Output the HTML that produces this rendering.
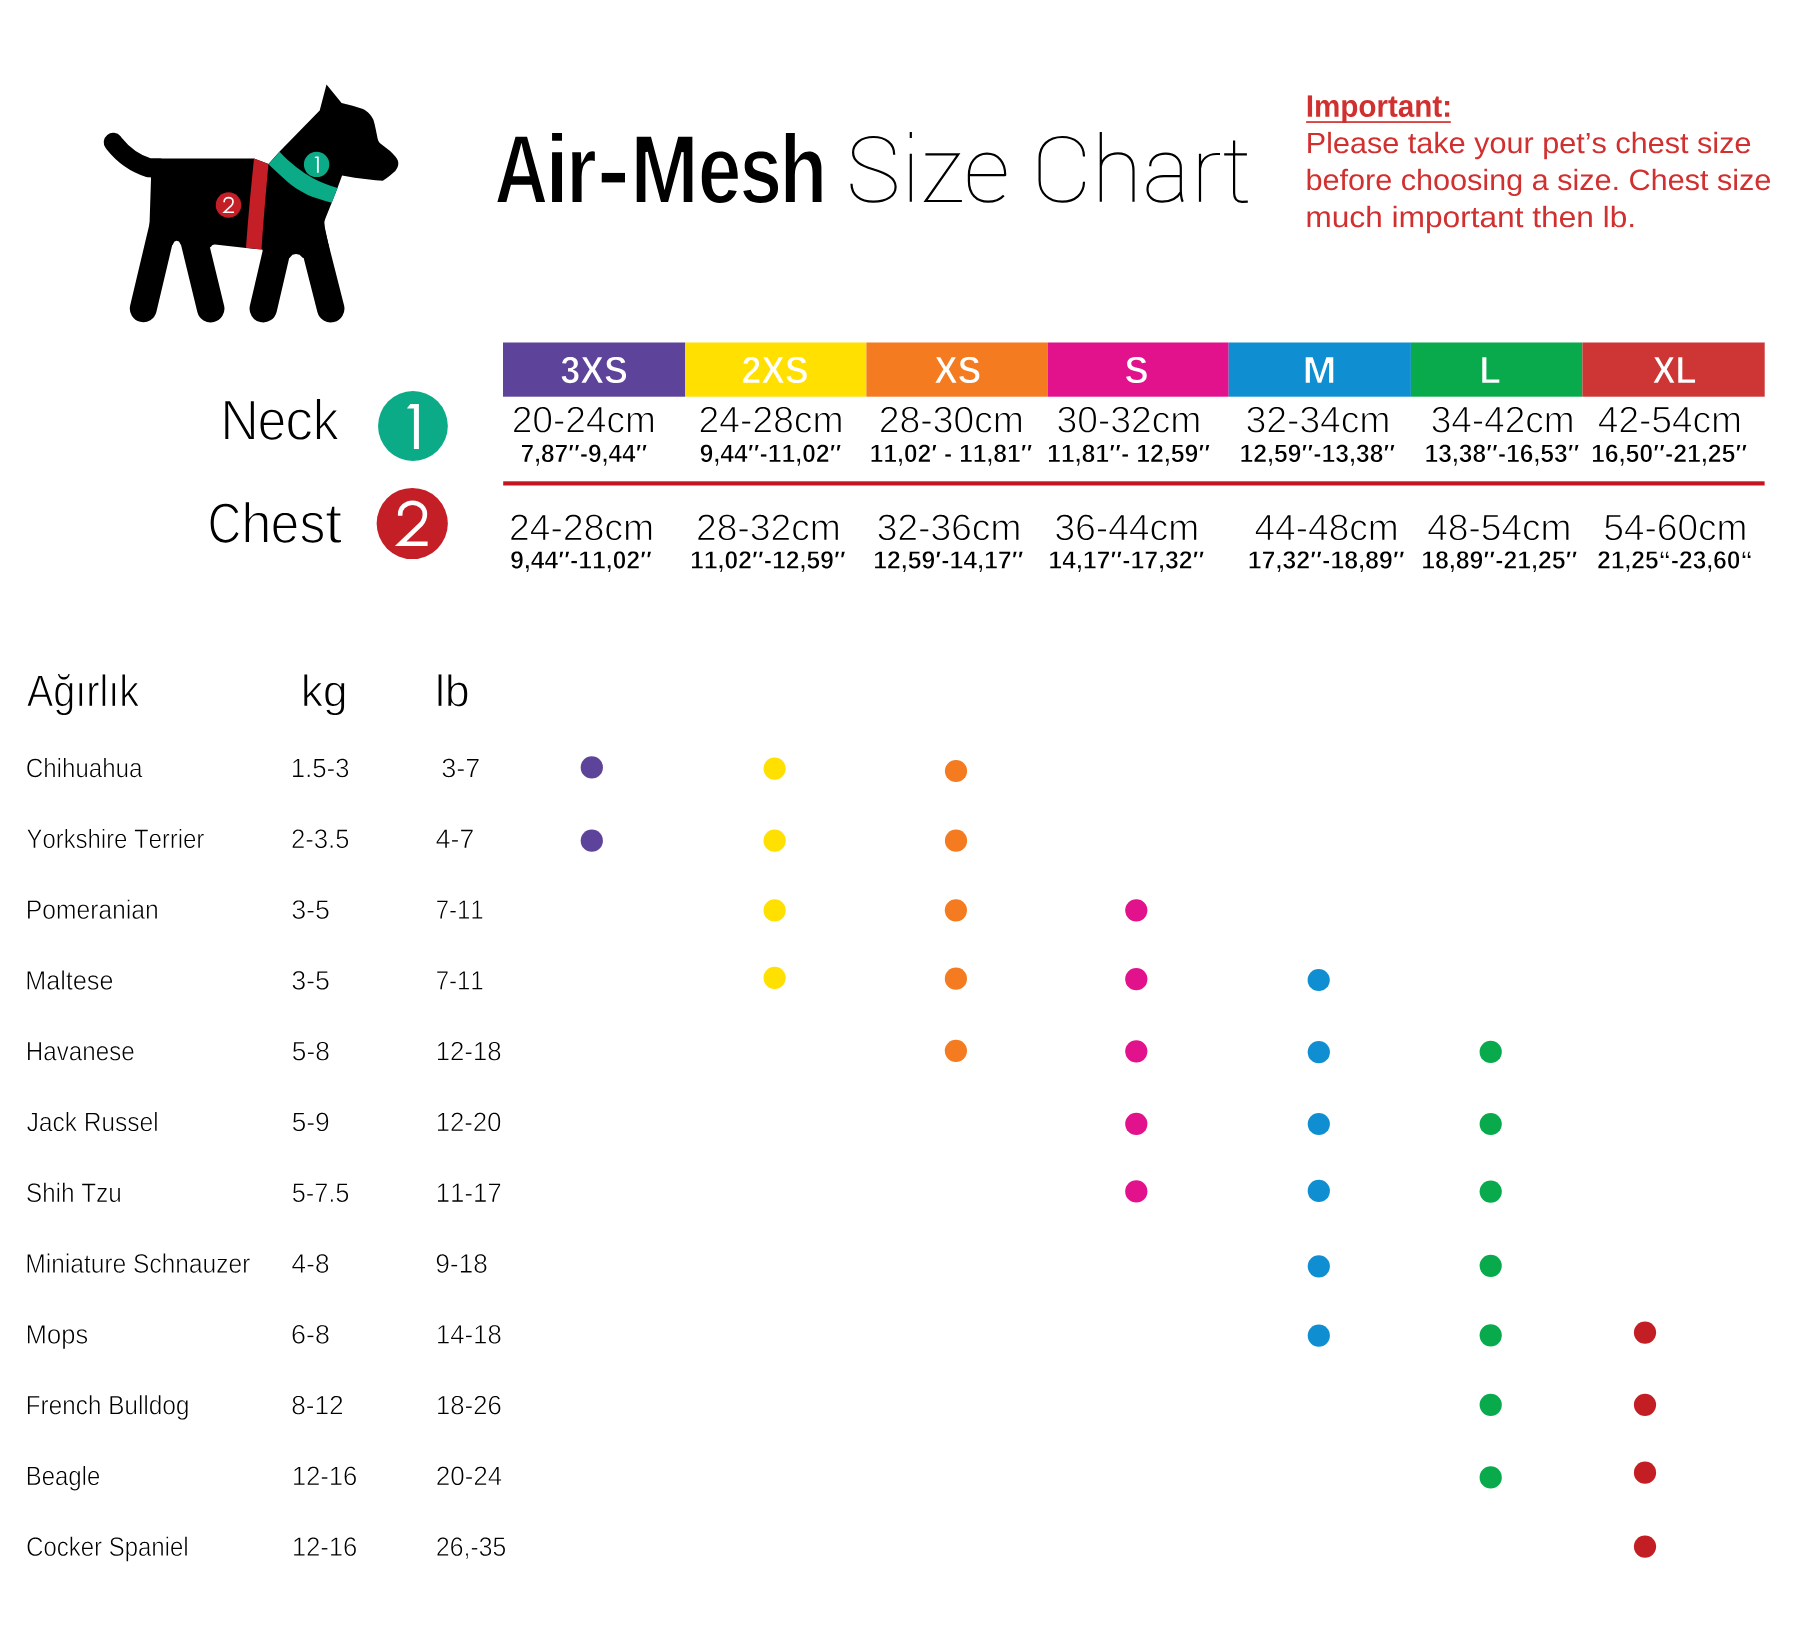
<!DOCTYPE html>
<html><head><meta charset="utf-8"><title>Air-Mesh Size Chart</title>
<style>
html,body{margin:0;padding:0;background:#fff;}
body{width:1800px;height:1631px;overflow:hidden;}
svg{display:block;}
text{font-family:"Liberation Sans",sans-serif;font-kerning:none;font-variant-ligatures:none;}
</style></head><body>
<svg width="1800" height="1631" viewBox="0 0 1800 1631">
<rect width="1800" height="1631" fill="#fff"/>
<defs><path id="g0" fill-rule="evenodd" d="M1149 23L1024 383 455 383 330 23 84 23 581 1386 897 1386 1392 23ZM505 559L974 559 825 994 742 1258Z"/><path id="g1" fill-rule="evenodd" d="M166 1059L401 1059 401 23 166 23ZM166 1461L401 1461 401 1300 166 1300Z"/><path id="g2" fill-rule="evenodd" d="M159 1059L382 1059 398 826 519 1009 561 1049 597 1068 640 1078 693 1080 743 1072 743 881 680 890 633 891 582 883 547 870 506 843 471 807 447 769 426 717 409 645 401 561 401 23 166 23 166 871Z"/><path id="g3" fill-rule="evenodd" d="M103 432L103 630 577 630 577 432Z"/><path id="g4" fill-rule="evenodd" d="M437 1071L376 1062 376 23 160 23 160 1386 515 1386 762 614 853 267 939 575 1193 1386 1546 1386 1546 23 1330 23 1330 1060 1275 1068 941 23 765 23 516 793Z"/><path id="g5" fill-rule="evenodd" d="M349 510L361 374 372 325 388 282 409 244 440 206 478 176 511 160 547 150 600 145 652 149 699 162 739 185 765 207 785 235 804 273 1019 254 990 198 955 150 915 110 870 76 802 40 734 19 658 6 573 3 498 8 420 24 350 50 288 86 242 125 198 177 163 236 136 304 117 380 107 453 103 546 107 638 118 710 139 786 163 844 199 905 244 957 291 996 353 1032 413 1055 490 1072 577 1079 652 1076 731 1062 791 1040 853 1004 907 957 950 903 990 826 1020 735 1039 629 1046 510ZM349 640L826 640 803 773 781 828 758 866 723 902 679 930 641 942 586 948 532 943 483 926 451 906 415 870 391 831 369 774Z"/><path id="g6" fill-rule="evenodd" d="M101 251L303 281 318 246 340 212 369 186 397 169 478 148 588 143 690 153 754 176 796 212 810 235 817 261 819 305 807 347 779 382 750 402 670 432 443 484 329 518 253 556 218 583 190 613 163 655 148 694 139 750 140 809 149 861 168 907 195 948 231 985 305 1031 396 1062 504 1078 627 1078 725 1066 818 1037 890 996 944 944 979 891 1002 831 799 810 786 843 765 876 746 894 716 913 647 934 542 938 464 929 400 904 378 885 362 862 353 835 350 805 354 774 366 746 386 722 427 695 489 673 696 626 824 589 912 547 973 494 1004 448 1022 401 1031 342 1030 283 1021 232 998 178 969 138 931 102 889 73 835 46 773 26 716 14 640 5 556 3 475 7 401 16 347 28 290 46 249 66 207 94 169 130 144 163 122 200Z"/><path id="g7" fill-rule="evenodd" d="M397 843L551 1009 613 1047 674 1069 768 1079 817 1077 872 1067 947 1037 987 1009 1015 981 1047 935 1072 879 1090 815 1098 754 1101 23 867 23 867 621 862 690 854 739 841 782 823 820 779 872 756 888 721 904 651 914 613 911 576 902 543 886 512 865 484 838 455 797 433 756 417 710 407 660 401 593 401 23 166 23 166 1461 401 1461Z"/><path id="g8" fill-rule="evenodd" d="M137 0L137 1409 432 1409 432 0Z"/><path id="g9" fill-rule="evenodd" d="M780 0L780 622 770 729 749 800 717 851 672 882 616 892 563 882 534 867 508 845 485 816 463 778 435 694 424 594 424 0 143 0 143 885 135 1082 403 1082 416 867 420 867 449 928 475 969 526 1028 590 1072 670 1098 735 1103 805 1098 866 1082 911 1060 956 1025 992 979 1020 922 1036 867 1042 867 1092 961 1135 1014 1183 1054 1245 1084 1329 1101 1421 1100 1499 1080 1556 1049 1604 1004 1643 945 1670 876 1687 794 1694 701 1694 0 1415 0 1415 622 1405 729 1384 800 1352 851 1307 882 1251 892 1217 888 1186 877 1140 843 1116 812 1096 776 1072 700 1059 593 1059 0Z"/><path id="g10" fill-rule="evenodd" d="M1167 546L1164 461 1154 371 1135 289 1109 216 1075 152 1037 100 988 54 933 19 859 -8 789 -19 700 -17 628 -3 564 24 514 57 471 99 424 172 418 172 424 46 424 -425 143 -425 143 863 135 1082 408 1082 416 1011 420 906 424 906 470 979 512 1023 562 1058 630 1086 720 1103 807 1104 887 1089 947 1064 1001 1027 1041 987 1079 935 1112 872 1137 800 1154 719 1163 643ZM874 546L868 657 852 738 827 803 787 859 734 894 669 909 627 909 593 902 562 891 534 873 493 833 457 768 435 694 422 594 422 480 434 389 456 313 493 247 516 222 552 196 592 179 625 173 667 173 709 180 739 191 772 212 815 262 847 332 866 421Z"/><path id="g11" fill-rule="evenodd" d="M1171 542L1161 415 1133 302 1090 214 1060 170 1025 130 950 67 902 40 851 17 749 -10 621 -20 507 -12 395 18 345 40 298 67 224 130 165 205 118 303 89 415 80 542 89 669 118 780 165 878 224 952 264 989 308 1021 397 1065 511 1094 627 1102 758 1092 861 1066 949 1024 993 993 1032 958 1065 918 1094 875 1138 776 1162 673ZM877 542L872 642 854 735 824 807 783 856 726 892 657 908 574 904 540 895 503 877 452 834 418 782 394 716 380 636 375 527 382 431 399 350 432 275 459 239 491 210 528 189 560 179 606 172 656 174 708 186 746 203 779 227 802 251 822 279 842 321 858 370 869 425Z"/><path id="g12" fill-rule="evenodd" d="M143 0L143 871 135 1082 403 1082 416 851 420 851 453 936 484 997 510 1033 548 1068 590 1089 651 1102 721 1100 766 1088 766 853 702 864 646 868 599 863 557 849 521 826 490 793 468 758 448 710 432 642 424 561 424 0Z"/><path id="g13" fill-rule="evenodd" d="M420 -18L344 -10 280 12 229 50 210 73 189 109 169 174 162 240 162 892 25 892 25 1082 176 1082 264 1336 440 1336 440 1082 645 1082 645 892 440 892 440 330 443 286 455 240 470 214 494 193 525 180 563 176 657 190 657 16 546 -10Z"/><path id="g14" fill-rule="evenodd" d="M393 -20L304 -12 227 12 164 51 114 106 80 174 63 254 63 358 81 438 111 497 153 547 210 590 277 620 343 638 418 649 720 656 718 754 708 814 688 861 662 891 624 911 576 920 532 919 494 911 464 897 448 884 430 862 416 832 402 767 109 781 127 852 162 925 210 985 271 1032 348 1068 452 1094 560 1102 667 1096 761 1075 840 1038 898 994 944 936 977 868 992 813 1000 740 1001 302 1008 231 1028 185 1054 166 1090 160 1152 166 1152 14 1067 -5 987 -12 916 -8 859 9 823 33 790 74 767 127 755 193 749 193 718 143 682 100 644 63 601 33 555 10 504 -7 451 -17ZM720 501L576 499 499 493 445 481 405 459 388 443 369 415 354 356 353 313 359 273 382 221 405 199 425 188 458 178 483 176 522 179 558 189 592 205 623 226 670 279 704 347 718 408Z"/><path id="g15" fill-rule="evenodd" d="M844 0L844 621 834 723 812 793 793 824 771 850 722 880 689 889 651 892 584 881 554 867 518 841 494 814 469 777 450 737 437 693 424 594 424 0 143 0 143 885 135 1082 403 1082 416 867 420 867 445 916 481 969 537 1028 573 1053 613 1074 657 1089 704 1099 755 1103 819 1100 910 1080 949 1063 994 1034 1025 1005 1056 965 1082 919 1101 866 1114 808 1122 743 1124 0Z"/><path id="g16" fill-rule="evenodd" d="M197 281L485 281 485 0 197 0ZM197 1034L485 1034 485 752 197 752Z"/><path id="g17" fill-rule="evenodd" d="M1258 985L1255 923 1242 853 1223 800 1198 752 1166 707 1128 667 1086 634 1030 601 946 570 839 552 359 549 359 0 168 0 168 1409 803 1408 907 1397 1009 1368 1059 1345 1112 1311 1159 1268 1193 1226 1223 1169 1242 1117 1255 1048ZM1066 983L1055 1072 1028 1137 984 1188 948 1212 914 1228 856 1245 776 1255 359 1256 359 700 783 701 851 709 918 729 979 765 1010 795 1029 823 1056 890Z"/><path id="g18" fill-rule="evenodd" d="M138 0L138 1484 318 1484 318 0Z"/><path id="g19" fill-rule="evenodd" d="M276 503L279 435 290 361 305 306 326 258 353 216 383 183 428 150 469 132 527 118 592 115 659 122 717 137 766 162 805 193 835 229 861 281 1019 236 988 171 954 122 912 81 865 47 800 16 726 -6 630 -18 538 -19 450 -8 382 10 312 42 259 78 212 123 171 179 139 244 117 306 99 388 89 478 87 576 94 668 107 740 129 816 155 875 193 936 243 990 293 1029 350 1060 413 1082 494 1098 582 1102 665 1096 748 1077 814 1051 871 1014 926 962 966 904 1005 819 1030 730 1044 628 1048 503ZM862 641L850 724 831 794 804 852 775 890 735 925 687 949 632 964 568 969 506 964 451 947 402 920 360 882 329 838 302 778 287 720 278 641Z"/><path id="g20" fill-rule="evenodd" d="M414 -20L322 -12 246 12 184 52 136 108 104 179 89 262 91 366 112 445 144 503 189 553 244 591 320 623 401 642 495 653 797 660 795 763 781 838 753 894 718 927 669 951 594 964 534 964 479 958 433 947 397 929 366 902 348 876 330 832 323 793 135 810 149 869 179 938 224 994 282 1039 355 1072 453 1094 555 1102 665 1096 748 1079 818 1049 876 1008 924 952 953 894 972 827 978 765 979 256 987 190 1006 142 1030 121 1080 111 1139 118 1139 6 1064 -7 986 -10 936 -3 885 17 854 42 829 84 811 139 803 207 797 207 730 110 689 69 646 37 596 12 541 -6 480 -16ZM455 115L531 122 599 144 663 181 717 232 759 295 786 363 796 421 797 534 555 528 454 517 408 504 371 487 340 466 314 440 291 400 275 341 273 271 288 210 320 163 356 136 401 120Z"/><path id="g21" fill-rule="evenodd" d="M950 299L947 250 934 194 911 144 885 109 853 77 810 47 754 19 701 2 631 -12 553 -19 453 -19 374 -11 304 3 243 24 200 46 154 81 116 122 91 161 72 205 57 254 216 285 228 250 251 210 282 177 320 153 358 137 415 124 482 118 542 118 647 132 687 145 721 166 745 189 761 216 772 248 775 285 768 332 753 363 731 389 699 412 618 447 399 506 290 543 217 582 159 632 131 670 116 700 104 745 100 796 105 857 116 901 139 950 165 984 222 1033 287 1065 377 1088 469 1098 582 1096 679 1082 762 1055 833 1011 864 980 895 935 918 882 931 834 769 814 753 858 734 887 709 911 670 934 629 949 581 959 467 962 379 947 341 931 314 911 298 894 283 864 275 827 277 789 287 756 306 730 334 707 370 687 449 660 713 587 774 562 840 524 891 476 925 421 944 364Z"/><path id="g23" fill-rule="evenodd" d="M554 8L482 -7 409 -15 339 -14 291 -5 242 17 210 45 185 82 168 127 156 216 156 951 31 951 31 1082 163 1082 216 1324 336 1324 336 1082 536 1082 536 951 336 951 336 268 339 221 347 185 362 158 377 145 408 131 450 127 554 141Z"/><path id="g24" fill-rule="evenodd" d="M816 0L450 494 318 385 318 0 138 0 138 1484 318 1484 318 557 793 1082 1004 1082 565 617 1027 0Z"/><path id="g25" fill-rule="evenodd" d="M191 -425L123 -422 67 -414 67 -279 138 -285 196 -280 247 -262 287 -236 330 -193 364 -146 400 -77 434 5 5 1082 197 1082 425 484 523 196 830 1082 1020 1082 598 -14 555 -117 514 -201 447 -300 405 -343 369 -372 330 -395 287 -411 240 -422Z"/><path id="g26" fill-rule="evenodd" d="M1053 542L1043 393 1029 322 1013 268 989 209 964 165 934 126 898 89 856 57 810 30 759 9 703 -6 631 -17 565 -20 500 -17 439 -8 342 23 295 48 260 72 195 140 143 229 107 335 89 459 88 605 102 729 129 827 174 917 234 989 302 1040 382 1075 486 1097 599 1102 714 1089 802 1062 867 1027 922 981 970 919 1006 844 1032 757 1048 656ZM864 542L856 686 830 800 811 844 792 876 764 907 732 931 683 953 626 966 560 969 498 962 453 949 405 925 365 891 336 850 304 777 282 671 275 542 282 415 301 321 330 245 371 186 420 147 459 129 502 118 550 113 604 115 653 123 697 137 726 152 760 177 804 232 838 317 857 412Z"/><path id="g27" fill-rule="evenodd" d="M314 1082L314 381 318 313 327 257 352 194 366 175 392 151 420 136 453 127 537 119 587 123 632 133 673 151 701 169 734 199 761 234 782 272 798 314 811 374 817 441 817 1082 997 1082 997 175 1003 0 833 0 825 185 763 98 705 44 669 21 627 3 544 -16 490 -20 419 -18 322 2 281 19 246 41 216 68 188 105 170 140 152 191 140 250 134 317 133 1082Z"/><path id="g28" fill-rule="evenodd" d="M142 0L142 852 136 1082 306 1082 314 861 318 861 343 931 370 988 399 1032 434 1065 484 1089 533 1100 587 1102 648 1092 648 927 606 934 540 937 494 930 453 913 418 887 388 851 363 806 345 756 329 675 322 593 322 0Z"/><path id="g29" fill-rule="evenodd" d="M1053 546L1049 438 1039 354 1023 278 1001 210 972 151 933 95 885 49 837 19 765 -7 684 -19 592 -17 513 -1 446 27 397 61 356 105 319 168 314 168 318 60 318 -425 138 -425 138 897 132 1082 306 1082 316 908 320 908 368 985 409 1028 465 1064 527 1087 613 1100 707 1099 788 1083 859 1053 910 1015 947 976 979 928 1004 874 1024 812 1041 729 1049 649ZM864 542L858 674 839 779 811 850 790 883 768 907 734 933 704 946 671 956 622 962 568 960 519 952 487 942 450 923 402 878 364 815 339 738 323 636 318 497 327 386 348 294 367 246 386 214 414 181 456 148 496 130 542 118 607 113 658 117 703 129 742 148 775 176 796 202 818 241 835 285 857 398Z"/><path id="g30" fill-rule="evenodd" d="M328 1409L323 1167 312 1098 285 1018 250 952 127 952 168 1019 198 1085 215 1149 221 1212 133 1212 133 1409Z"/><path id="g31" fill-rule="evenodd" d="M275 546L284 406 310 295 329 250 350 216 379 182 414 156 475 130 535 122 613 129 669 149 717 181 746 215 772 268 788 334 970 322 951 240 918 167 878 113 828 66 772 30 710 3 641 -13 566 -20 476 -16 406 -2 343 20 295 46 244 84 200 131 167 181 135 247 114 311 97 394 88 486 88 584 94 664 108 749 131 825 157 883 195 943 237 990 296 1036 353 1066 417 1087 487 1099 577 1101 651 1093 730 1071 790 1041 853 993 904 933 941 862 964 779 779 765 767 813 743 865 708 908 674 932 634 949 573 960 507 959 449 947 408 930 374 906 345 875 318 828 301 782 287 715 278 636Z"/><path id="g32" fill-rule="evenodd" d="M317 897L366 971 430 1034 466 1058 505 1076 584 1096 636 1101 706 1101 805 1084 847 1068 884 1047 915 1022 940 994 965 952 984 903 997 845 1004 779 1006 0 825 0 825 702 821 773 812 829 787 889 745 931 716 946 684 955 602 963 553 959 508 949 478 936 440 914 406 884 379 850 358 813 338 761 326 703 322 651 322 0 142 0 142 1484 322 1484 322 1086Z"/><path id="g33" fill-rule="evenodd" d="M137 1082L317 1082 317 0 137 0ZM137 1484L317 1484 317 1312 137 1312Z"/><path id="g34" fill-rule="evenodd" d="M83 0L83 137 688 943 117 943 117 1082 901 1082 901 945 295 139 922 139 922 0Z"/><path id="g35" fill-rule="evenodd" d="M1053 546L1050 451 1041 365 1026 288 1004 219 977 159 943 108 904 65 858 31 790 0 712 -17 613 -19 525 -5 460 19 405 55 358 105 316 168 306 0 132 0 138 187 138 1484 318 1484 314 908 318 908 365 984 405 1025 450 1057 514 1083 587 1098 681 1101 765 1090 838 1065 891 1032 930 997 967 949 998 888 1022 818 1039 738 1050 647ZM864 540L858 673 839 779 812 850 791 884 769 908 735 933 705 947 660 959 622 963 571 961 524 953 482 939 446 919 400 876 362 811 337 730 322 631 318 498 327 387 348 295 386 214 414 181 456 148 496 130 542 118 607 113 656 117 710 131 746 152 778 179 798 204 820 245 836 291 858 408Z"/><path id="g36" fill-rule="evenodd" d="M361 951L361 0 181 0 181 951 29 951 29 1082 181 1082 182 1234 193 1314 203 1348 222 1386 246 1417 270 1437 317 1462 389 1479 488 1481 572 1470 572 1333 477 1341 438 1334 408 1320 387 1299 374 1273 365 1238 361 1179 361 1082 572 1082 572 951Z"/><path id="g37" fill-rule="evenodd" d="M825 0L825 701 821 769 812 825 787 888 765 916 747 931 719 946 686 955 602 963 552 959 507 949 476 936 438 913 405 883 378 848 357 810 341 768 328 708 322 641 322 0 142 0 142 907 136 1082 306 1082 314 897 376 984 434 1038 470 1061 512 1079 595 1098 649 1102 720 1100 817 1080 858 1063 893 1041 924 1014 951 977 969 942 987 891 999 832 1005 765 1006 0Z"/><path id="g38" fill-rule="evenodd" d="M548 -425L467 -421 395 -409 321 -385 266 -356 220 -319 177 -267 150 -216 131 -158 312 -132 335 -189 372 -233 420 -263 486 -283 553 -288 606 -285 653 -274 695 -257 730 -233 760 -203 788 -157 805 -111 821 -11 822 201 775 128 718 70 650 28 572 2 472 -8 373 1 290 30 221 76 175 131 140 197 113 277 96 371 87 494 89 626 102 742 123 831 162 924 214 995 280 1048 360 1082 429 1095 505 1099 569 1092 639 1073 692 1046 746 1004 785 960 824 897 836 1082 1007 1082 1001 911 1001 7 993 -82 975 -162 951 -222 919 -275 879 -320 831 -357 775 -386 701 -409 629 -421ZM822 541L816 646 793 748 752 838 701 900 664 929 632 946 561 964 510 964 463 957 422 942 394 927 348 883 315 825 290 745 276 645 272 509 282 381 304 281 337 213 364 181 397 157 436 139 482 129 533 125 584 130 630 144 674 168 709 197 739 231 765 272 786 318 812 415Z"/><path id="g39" fill-rule="evenodd" d="M187 0L187 219 382 219 382 0Z"/><path id="g40" fill-rule="evenodd" d="M792 1274L717 1270 648 1257 584 1236 526 1207 474 1169 421 1116 379 1055 350 997 324 923 307 841 299 752 300 645 312 558 332 477 361 404 394 347 434 294 473 254 516 219 563 191 614 168 668 152 726 141 800 137 866 141 939 155 1006 180 1059 210 1109 248 1161 302 1209 366 1245 430 1401 352 1353 266 1296 192 1231 128 1156 75 1075 33 986 4 892 -14 791 -20 713 -17 639 -8 570 8 504 30 442 58 382 93 336 128 286 176 241 230 209 279 176 341 148 413 116 548 107 633 104 711 111 840 133 957 170 1063 220 1157 286 1239 368 1310 452 1360 557 1400 687 1425 830 1429 956 1416 1078 1383 1176 1336 1223 1303 1266 1266 1304 1224 1338 1177 1388 1081 1207 1021 1174 1087 1139 1134 1098 1175 1050 1209 987 1240 931 1258 870 1269Z"/><path id="g41" fill-rule="evenodd" d="M768 0L768 702 756 824 734 889 719 911 697 931 649 953 570 963 533 961 488 950 429 917 396 885 371 850 338 769 326 709 321 641 321 0 142 0 142 907 136 1082 306 1082 314 897 372 985 425 1040 490 1077 569 1098 633 1102 701 1098 760 1085 810 1064 853 1033 882 999 905 958 927 897 980 976 1021 1020 1075 1059 1137 1085 1219 1101 1312 1099 1384 1085 1452 1053 1496 1013 1527 966 1552 896 1566 822 1571 721 1571 0 1393 0 1393 702 1381 824 1359 889 1344 911 1322 931 1274 953 1195 963 1122 953 1090 941 1052 917 1027 894 1000 859 976 812 962 770 951 709 946 641 946 0Z"/><path id="g42" fill-rule="evenodd" d="M298 1302L309 936 309 29 197 29 197 1380 374 1380 1184 97 1169 469 1169 1380 1283 1380 1283 29 1098 29Z"/><path id="g43" fill-rule="evenodd" d="M244 532L257 380 271 319 291 265 317 216 355 170 393 138 436 114 484 97 536 88 608 87 664 93 739 115 793 146 843 192 878 246 980 217 948 162 907 115 857 76 799 46 731 25 653 12 565 9 490 14 423 28 363 49 309 77 262 114 223 156 187 210 158 274 139 336 124 416 117 506 118 614 128 700 143 766 168 835 200 895 241 947 285 988 343 1025 410 1051 475 1066 558 1073 642 1069 714 1057 778 1035 834 1005 883 966 923 917 957 860 984 792 1003 714 1015 625 1019 532ZM243 612L897 612 879 730 862 793 834 857 803 902 761 942 709 972 649 990 568 998 488 989 428 969 375 936 331 892 299 843 270 775 256 712Z"/><path id="g44" fill-rule="evenodd" d="M246 546L257 389 269 329 286 275 308 227 334 189 369 153 410 125 468 102 534 93 605 98 670 117 727 151 762 188 795 246 812 303 936 295 920 239 898 191 863 140 818 95 768 60 711 34 648 17 578 10 503 11 424 23 374 39 319 65 271 99 229 142 192 195 165 248 142 318 128 386 118 474 116 570 121 648 134 731 151 795 178 861 212 918 250 962 303 1006 355 1035 413 1056 479 1069 564 1073 635 1067 699 1051 757 1027 817 986 867 934 905 871 928 805 803 796 780 859 745 911 709 945 654 973 603 986 546 990 477 984 428 971 384 949 346 920 315 882 292 840 274 790 258 720 249 638Z"/><path id="g45" fill-rule="evenodd" d="M831 29L455 536 289 399 289 29 167 29 167 1455 289 1455 289 482 806 1053 937 1053 527 619 969 29Z"/><path id="g46" fill-rule="evenodd" d="M792 1303L714 1299 640 1285 573 1263 511 1232 455 1192 406 1142 366 1089 328 1019 299 942 280 858 270 767 270 670 279 577 297 492 325 413 358 350 397 293 436 249 490 202 539 170 592 145 649 126 710 114 787 108 858 111 925 122 998 145 1057 174 1111 212 1168 266 1213 320 1257 391 1362 339 1316 263 1260 195 1204 143 1132 94 1053 56 968 29 877 13 791 9 716 12 644 21 577 36 514 57 456 83 399 117 354 151 307 196 264 247 234 294 203 353 176 422 155 496 143 564 133 711 139 825 158 939 192 1042 239 1132 300 1212 368 1274 455 1330 544 1366 666 1393 790 1401 928 1392 1048 1363 1143 1322 1230 1260 1295 1189 1349 1098 1223 1057 1192 1113 1153 1162 1107 1205 1054 1240 998 1267 938 1286 874 1298Z"/><path id="g47" fill-rule="evenodd" d="M288 861L455 1017 506 1045 566 1064 625 1072 677 1073 775 1061 852 1033 882 1012 912 983 938 940 956 894 968 840 975 778 977 29 854 29 854 718 847 801 831 866 811 905 794 928 749 962 690 984 602 992 549 988 511 980 465 962 433 944 403 921 369 885 326 815 304 745 294 666 293 29 171 29 171 1455 293 1455 293 1074Z"/><path id="g48" fill-rule="evenodd" d="M93 232L196 252 228 192 254 163 285 139 349 110 437 92 543 89 642 100 709 124 759 161 775 181 793 217 804 285 799 328 791 354 761 401 724 431 667 460 355 550 283 578 233 606 181 651 147 702 131 761 131 831 138 872 151 910 174 951 200 979 230 1003 270 1026 359 1055 431 1066 499 1070 567 1068 640 1060 694 1048 750 1028 791 1006 829 975 870 921 895 859 790 846 772 883 747 915 715 942 683 960 637 977 585 987 465 990 370 974 337 961 305 942 275 911 261 886 251 859 246 814 251 770 268 731 295 700 330 675 418 639 633 582 731 549 805 513 861 466 888 429 907 389 917 347 921 287 916 243 903 194 881 151 849 113 810 81 770 58 714 36 662 23 590 12 525 9 441 11 366 20 263 47 222 67 189 89 159 116 133 148 112 185Z"/><path id="g49" fill-rule="evenodd" d="M525 31L454 18 384 13 333 15 291 25 258 41 227 70 208 102 194 143 185 229 185 980 60 980 60 1053 186 1053 239 1295 307 1295 307 1053 507 1053 507 980 307 980 307 268 316 188 339 140 373 113 417 100 461 98 525 106Z"/><path id="g50" fill-rule="evenodd" d="M78 359L310 379 335 303 358 266 379 243 430 206 503 183 579 178 649 188 709 213 757 253 778 285 793 322 801 363 804 408 800 451 790 490 755 547 725 574 697 591 631 616 552 628 436 629 436 802 561 805 638 823 700 858 727 885 748 916 768 978 770 1048 755 1113 723 1166 685 1199 639 1221 584 1232 512 1230 473 1222 437 1207 386 1169 350 1117 329 1051 102 1067 117 1128 137 1178 162 1223 193 1263 231 1299 280 1334 334 1362 384 1380 449 1395 521 1402 600 1402 675 1395 732 1384 794 1364 848 1337 896 1302 951 1241 975 1196 989 1157 999 1102 1002 1055 999 1007 988 954 957 889 932 856 902 829 859 799 706 721 866 658 920 627 980 572 1016 510 1031 459 1037 415 1031 308 1022 265 1004 217 984 181 954 141 911 100 855 64 790 36 727 19 644 7 552 4 464 10 385 25 324 44 269 70 221 103 175 145 137 194 112 241 93 292Z"/><path id="g51" fill-rule="evenodd" d="M1053 27L684 612 315 27 68 27 538 741 110 1382 356 1382 684 860 1012 1382 1258 1382 847 741 1299 27Z"/><path id="g52" fill-rule="evenodd" d="M92 345L325 383 361 307 393 268 422 243 462 218 505 200 603 179 720 174 828 186 904 209 963 245 989 272 1004 296 1018 331 1025 369 1026 404 1018 446 1007 472 984 506 935 546 859 583 770 609 575 654 434 691 349 724 278 765 243 794 213 828 189 867 170 912 153 998 152 1048 157 1104 170 1156 194 1210 229 1258 267 1294 315 1326 366 1351 435 1374 502 1389 602 1400 701 1403 800 1399 899 1385 973 1367 1035 1342 1090 1308 1134 1266 1181 1197 1216 1100 983 1068 966 1110 937 1154 909 1181 870 1209 827 1227 766 1242 710 1247 636 1247 569 1239 523 1228 483 1212 448 1190 421 1163 401 1131 389 1094 385 1053 393 995 411 957 438 926 486 893 528 873 597 851 889 782 1011 746 1112 697 1155 665 1186 632 1219 584 1244 522 1257 455 1258 370 1248 304 1228 244 1192 184 1150 138 1094 97 1036 66 958 39 880 22 780 10 668 7 573 11 474 24 408 40 340 64 279 94 227 130 182 174 144 225 114 284Z"/><path id="g53" fill-rule="evenodd" d="M98 27L98 189 132 255 170 315 239 403 331 500 420 582 600 735 689 824 721 864 750 912 768 961 777 1010 775 1060 766 1106 748 1146 730 1172 707 1193 670 1214 638 1225 591 1232 536 1232 495 1225 459 1212 427 1193 400 1167 372 1125 356 1088 344 1040 114 1053 137 1143 168 1212 217 1278 279 1330 352 1368 437 1392 549 1403 667 1397 757 1378 841 1343 895 1305 937 1263 969 1213 992 1157 1006 1082 1007 1009 998 940 976 877 929 793 860 708 782 634 569 463 478 380 432 331 340 204 1030 204 1030 27Z"/><path id="g54" fill-rule="evenodd" d="M436 1087L372 1078 372 27 164 27 164 1382 512 1382 758 613 853 251 943 574 1196 1382 1542 1382 1542 27 1334 27 1334 1075 1276 1084 1186 794 938 27 768 27 520 794Z"/><path id="g55" fill-rule="evenodd" d="M164 27L164 1382 405 1382 405 201 1161 201 1161 27Z"/><path id="g56" fill-rule="evenodd" d="M133 30L133 121 174 201 223 279 291 362 376 449 477 538 652 682 754 783 802 847 833 905 850 956 859 1024 857 1081 850 1121 833 1169 814 1202 790 1231 752 1263 719 1282 670 1300 602 1311 530 1310 464 1297 405 1272 354 1234 320 1196 288 1140 270 1076 145 1088 160 1145 181 1194 221 1254 281 1313 351 1355 431 1384 522 1398 638 1397 731 1382 818 1349 873 1313 913 1272 945 1224 968 1168 981 1104 983 1023 973 958 949 894 891 798 816 712 704 609 487 427 384 326 323 252 238 123 1006 123 1006 30Z"/><path id="g57" fill-rule="evenodd" d="M1029 705L1019 517 1006 434 985 348 961 281 928 213 890 156 848 110 801 73 739 41 669 20 603 11 520 12 454 22 395 41 334 73 287 110 252 147 218 196 188 253 163 317 142 388 117 541 111 634 110 749 115 846 126 947 141 1027 164 1108 189 1171 224 1233 267 1287 326 1336 397 1371 468 1391 561 1400 656 1394 739 1373 810 1338 864 1295 903 1248 942 1185 975 1106 1000 1014 1016 921 1026 818ZM906 705L898 897 872 1051 854 1110 832 1161 806 1204 774 1240 737 1269 684 1296 625 1310 559 1314 495 1306 448 1292 395 1264 359 1233 328 1196 300 1147 279 1094 262 1033 239 885 232 689 242 502 267 362 286 303 309 252 336 209 368 172 415 136 458 116 505 103 569 97 633 103 680 116 722 137 769 174 802 211 829 255 852 309 871 370 897 514Z"/><path id="g58" fill-rule="evenodd" d="M121 494L121 594 561 594 561 494Z"/><path id="g59" fill-rule="evenodd" d="M851 349L851 30 741 30 741 349 77 349 77 450 708 1379 851 1379 851 431 1049 431 1049 349ZM155 431L741 431 741 1283 258 572Z"/><path id="g60" fill-rule="evenodd" d="M245 546L256 389 268 328 285 274 307 227 333 188 368 152 409 124 468 101 534 92 605 97 671 116 727 151 763 187 796 245 813 302 935 294 919 239 897 191 862 140 818 96 767 61 711 35 648 18 578 11 503 12 424 24 374 40 319 66 272 100 230 143 192 196 166 249 143 319 129 386 119 474 117 570 122 648 135 731 152 795 179 861 213 918 250 962 303 1006 355 1034 414 1055 479 1068 564 1072 635 1066 699 1050 757 1026 816 986 867 933 904 871 927 806 803 797 781 859 746 912 710 945 654 974 603 987 546 991 477 985 427 972 383 950 345 920 314 883 291 840 273 790 257 720 248 639Z"/><path id="g61" fill-rule="evenodd" d="M169 1052L278 1052 288 851 444 1016 501 1049 573 1068 647 1072 709 1066 761 1053 803 1033 832 1011 857 982 927 857 1033 991 1081 1028 1135 1053 1222 1071 1309 1069 1384 1053 1442 1023 1478 988 1504 944 1526 877 1537 806 1541 721 1541 30 1423 30 1423 719 1415 806 1398 875 1367 930 1329 962 1269 986 1195 993 1114 982 1077 968 1044 949 1014 924 988 894 949 824 928 752 917 657 916 30 798 30 798 703 794 779 783 842 755 912 715 955 657 982 616 990 570 993 490 982 454 968 421 948 391 923 364 893 324 823 303 752 292 657 291 30 172 30Z"/><path id="g62" fill-rule="evenodd" d="M394 738L279 812 240 844 201 893 169 960 153 1046 158 1134 179 1202 223 1270 277 1319 347 1360 430 1386 526 1399 630 1397 733 1380 819 1346 884 1302 938 1240 972 1166 982 1113 985 1067 974 978 947 910 904 850 866 817 740 739 875 671 924 635 952 606 980 563 1010 485 1019 429 1019 369 1014 312 1001 260 983 213 959 170 928 132 892 100 819 56 729 26 623 12 504 13 409 27 318 58 243 104 188 160 161 201 145 237 124 320 121 427 139 513 172 578 221 635 264 667ZM893 410L887 480 869 542 838 595 805 630 756 663 688 690 623 701 538 703 471 695 411 676 359 647 314 607 285 567 260 511 247 447 246 381 256 302 275 243 306 192 346 150 397 119 456 98 523 87 602 86 672 94 733 113 785 142 820 172 853 218 875 274 889 338ZM858 1057L854 1116 841 1169 818 1216 786 1255 746 1286 697 1307 642 1321 566 1326 496 1321 445 1310 390 1286 352 1258 320 1222 297 1178 282 1128 276 1057 282 985 297 934 321 889 354 851 392 822 448 796 498 784 568 779 642 784 695 797 752 823 790 853 819 890 840 934 852 985Z"/><path id="g63" fill-rule="evenodd" d="M113 335L239 347 254 294 271 254 293 217 321 186 352 159 388 137 428 120 484 106 545 100 601 100 695 115 743 133 775 151 813 182 838 209 858 240 877 286 888 338 892 395 887 449 877 487 861 522 839 554 812 582 773 611 734 631 690 647 590 666 446 669 446 765 573 768 628 776 678 790 753 829 790 862 814 891 832 924 845 959 852 998 855 1052 849 1106 839 1144 818 1189 796 1220 742 1268 673 1298 576 1312 477 1304 426 1289 391 1273 331 1227 286 1167 271 1131 257 1081 136 1090 148 1139 167 1189 187 1225 218 1266 256 1303 297 1333 341 1357 390 1375 455 1391 513 1398 590 1400 653 1395 711 1385 763 1370 810 1350 859 1320 896 1288 927 1249 951 1206 965 1168 976 1116 980 1057 977 1009 966 954 936 889 912 857 884 830 833 796 686 719 839 659 894 630 954 576 993 516 1007 477 1016 435 1019 389 1016 328 996 242 980 204 953 162 913 117 867 81 806 50 745 30 663 15 585 10 507 12 424 24 361 41 305 65 255 95 210 133 173 180 147 224 128 274Z"/><path id="g64" fill-rule="evenodd" d="M119 289L243 303 260 260 283 221 311 187 344 158 412 121 457 108 505 100 611 100 697 121 770 162 829 222 860 274 884 346 895 426 892 510 878 574 851 632 814 682 767 723 725 748 667 769 602 780 533 781 466 772 403 753 346 724 288 681 155 681 198 1379 941 1379 941 1286 306 1286 275 770 397 829 447 848 525 864 598 869 683 863 759 846 827 817 893 770 943 716 982 654 1007 585 1021 507 1021 409 1006 317 982 246 940 176 900 130 853 91 801 61 742 37 677 21 605 12 526 10 451 17 394 28 332 47 277 74 236 103 198 138 162 187 138 234Z"/><path id="g65" fill-rule="evenodd" d="M325 32L335 157 358 286 397 418 453 561 511 682 588 815 695 984 848 1210 120 1210 120 1377 1017 1377 1017 1195 854 932 774 790 693 624 637 483 601 363 576 254 561 142 554 32Z"/><path id="g66" fill-rule="evenodd" d="M203 -285L248 -209 279 -136 297 -73 313 32 175 32 175 273 400 273 397 -13 386 -95 366 -169 339 -231 307 -285Z"/><path id="g67" fill-rule="evenodd" d="M383 737L261 812 221 843 174 901 142 969 133 1012 130 1057 140 1146 169 1221 217 1284 279 1332 362 1369 462 1392 567 1398 671 1392 771 1372 853 1338 921 1288 947 1259 973 1219 1000 1144 1008 1090 1009 1043 997 968 966 900 918 843 878 812 753 738 896 669 946 635 998 574 1031 500 1041 445 1044 397 1041 337 1030 283 1018 243 996 198 967 157 932 121 862 72 767 35 663 16 531 13 420 25 326 51 248 92 181 149 151 189 132 224 114 271 104 313 98 419 103 463 116 514 149 577 204 638 245 667ZM817 420L812 482 798 537 773 584 737 622 692 650 639 666 578 673 509 668 458 654 413 630 385 605 355 564 335 516 324 461 322 400 328 340 341 287 363 242 394 204 424 181 460 164 513 150 573 146 632 150 672 160 708 175 739 196 771 231 788 261 805 307 814 360ZM784 1040L779 1102 769 1143 745 1189 720 1218 688 1239 639 1257 597 1264 542 1264 495 1257 454 1241 419 1218 397 1195 375 1158 361 1115 354 1066 354 1014 360 965 373 921 394 883 422 852 448 834 488 817 532 808 584 806 640 814 678 827 711 846 737 872 757 902 771 938 780 979Z"/><path id="g68" fill-rule="evenodd" d="M666 1377L901 1377 762 922 610 922ZM177 1377L412 1377 273 922 121 922Z"/><path id="g69" fill-rule="evenodd" d="M112 441L112 621 568 621 568 441Z"/><path id="g70" fill-rule="evenodd" d="M137 284L338 313 372 247 414 206 466 180 540 169 604 177 650 196 701 234 742 286 775 354 797 430 832 688 669 571 628 551 576 533 510 522 441 522 375 532 317 552 265 582 219 621 180 668 150 720 127 779 112 845 104 919 105 1008 112 1066 125 1120 143 1168 172 1221 201 1260 236 1295 283 1330 327 1353 385 1375 451 1390 511 1396 588 1398 647 1392 712 1379 761 1361 814 1333 860 1297 895 1261 928 1215 957 1159 982 1094 1000 1033 1024 879 1030 785 1030 669 1014 487 998 407 977 335 951 271 915 206 874 152 830 109 781 74 728 47 670 28 606 16 537 12 459 16 401 25 349 40 304 60 257 91 216 132 186 174 160 223ZM798 924L795 983 786 1037 754 1121 706 1184 674 1209 638 1227 598 1238 541 1242 499 1236 459 1222 424 1201 394 1173 365 1133 344 1089 331 1039 324 971 327 900 340 836 364 779 392 739 431 703 477 679 529 667 599 669 652 684 699 710 738 747 774 802 791 853Z"/><path id="g71" fill-rule="evenodd" d="M908 319L908 32 704 32 704 319 63 319 63 488 643 1377 908 1377 908 464 1096 464 1096 319ZM704 464L707 1240 201 464Z"/><path id="g72" fill-rule="evenodd" d="M161 32L161 177 510 177 510 1228 172 1017 172 1163 502 1377 727 1377 727 177 1050 177 1050 32Z"/><path id="g73" fill-rule="evenodd" d="M1023 705L1013 515 1000 432 980 346 956 279 924 212 887 156 846 111 791 69 738 42 668 22 601 13 520 14 454 23 388 45 329 76 283 113 247 153 215 200 188 254 164 315 145 384 120 544 114 649 114 761 119 865 130 959 146 1043 169 1121 193 1179 227 1239 274 1296 327 1339 399 1372 474 1391 573 1398 667 1390 748 1368 817 1331 869 1287 906 1240 941 1179 970 1108 995 1016 1010 923 1020 819ZM805 705L801 874 787 1004 764 1100 731 1167 707 1194 685 1212 660 1225 618 1238 571 1242 526 1239 485 1228 449 1210 419 1184 392 1146 371 1099 355 1044 336 898 330 705 336 513 356 367 372 311 393 264 420 226 449 201 484 183 524 172 567 169 610 173 674 195 705 220 729 248 763 316 787 413 800 535Z"/><path id="g74" fill-rule="evenodd" d="M103 32L103 188 136 252 174 312 243 400 334 497 423 579 603 731 692 821 725 862 754 910 773 959 782 1009 776 1085 753 1148 734 1175 710 1197 651 1227 591 1237 535 1237 481 1226 445 1211 414 1189 381 1150 356 1103 339 1046 120 1058 141 1141 173 1210 221 1275 281 1326 353 1363 438 1387 550 1398 666 1392 755 1373 839 1339 892 1302 933 1259 965 1211 987 1155 1001 1081 1002 1010 993 941 972 879 925 796 856 712 778 637 566 467 474 384 428 334 330 199 1025 199 1025 32Z"/><path id="g75" fill-rule="evenodd" d="M121 922L177 1377 412 1377 273 922Z"/><path id="g77" fill-rule="evenodd" d="M101 323L320 341 337 299 366 254 393 226 426 204 463 187 504 176 548 171 605 174 657 186 693 201 725 222 754 248 776 276 799 319 815 367 823 420 821 520 809 573 794 609 766 652 740 680 709 703 663 725 583 739 529 736 491 729 421 698 363 648 138 648 183 1377 968 1377 968 1232 378 1232 350 801 473 865 520 885 583 898 652 902 733 894 814 871 885 833 938 787 987 724 1018 661 1041 577 1050 494 1047 408 1031 320 1000 242 956 174 913 129 867 93 805 59 746 37 670 20 598 13 507 14 434 22 367 38 308 60 256 90 216 121 174 165 145 208 118 267Z"/><path id="g78" fill-rule="evenodd" d="M84 354L306 374 331 301 354 263 375 239 428 202 503 178 579 173 650 183 711 208 760 250 793 307 804 348 809 392 807 437 799 479 768 539 719 584 689 601 644 617 566 631 441 634 441 797 561 800 640 818 703 854 731 881 753 914 773 978 775 1049 760 1114 735 1159 688 1204 640 1226 584 1237 511 1235 471 1226 435 1211 383 1173 345 1119 324 1056 108 1071 122 1127 141 1176 166 1220 197 1260 234 1295 282 1330 336 1358 385 1375 450 1390 521 1397 599 1397 674 1390 731 1379 792 1359 845 1333 893 1299 922 1270 952 1230 975 1185 987 1145 996 1091 997 1043 993 997 979 946 947 883 891 826 847 798 693 721 854 658 909 629 969 577 1007 517 1024 469 1031 426 1028 320 1020 277 1003 228 980 184 951 145 907 104 853 68 789 41 726 24 644 12 552 9 476 14 396 27 335 45 280 70 231 101 185 141 147 188 121 233 98 294Z"/><path id="g79" fill-rule="evenodd" d="M308 709L479 833 530 855 595 871 680 874 769 862 845 833 910 787 962 727 1000 655 1024 571 1033 474 1028 374 1008 286 976 210 923 138 871 92 811 56 743 31 665 16 579 12 499 19 427 36 353 69 297 108 254 150 213 203 177 270 148 347 129 424 114 521 108 615 108 730 115 839 128 938 148 1027 175 1106 208 1175 250 1238 299 1292 363 1339 426 1370 507 1391 586 1398 676 1394 755 1378 821 1351 883 1307 915 1272 944 1229 986 1133 784 1104 757 1159 716 1202 676 1225 617 1239 567 1239 518 1228 474 1207 435 1175 409 1146 382 1102 348 1015 327 909ZM815 453L812 510 802 562 784 608 766 639 733 676 703 699 668 716 630 727 575 732 532 729 479 715 444 697 412 672 378 631 359 595 343 542 338 483 343 413 358 349 383 292 411 250 449 212 493 185 542 170 596 167 649 176 697 196 738 227 769 266 795 320 810 383Z"/><path id="g80" fill-rule="evenodd" d="M242 679L408 820 475 855 540 873 637 881 728 871 808 845 883 796 938 738 983 660 1010 568 1019 474 1012 363 989 266 949 184 892 115 837 72 773 40 701 20 631 11 546 12 470 25 402 49 341 85 295 125 249 182 213 246 186 310 162 392 147 473 137 575 134 672 137 783 147 885 163 978 186 1062 215 1136 255 1210 300 1270 345 1313 412 1357 478 1383 551 1397 632 1400 708 1392 783 1370 840 1341 894 1296 937 1238 971 1166 858 1146 824 1211 776 1262 716 1295 645 1312 568 1312 508 1299 454 1274 406 1237 372 1200 342 1156 314 1101 292 1039 264 909ZM896 453L892 523 879 586 858 642 835 682 796 727 757 757 712 779 650 796 582 802 514 796 452 780 407 758 358 720 318 672 295 628 277 565 271 496 278 401 296 327 325 260 366 200 413 155 477 116 537 99 616 96 680 107 749 136 798 175 842 231 872 296 890 370Z"/><path id="g81" fill-rule="evenodd" d="M611 863L615 1114 629 1202 652 1277 683 1340 706 1377 809 1377 767 1306 736 1233 717 1167 700 1060 836 1060 836 863ZM183 863L187 1113 200 1201 223 1276 253 1340 276 1377 379 1377 337 1306 306 1233 287 1167 270 1060 406 1060 406 863Z"/><path id="g82" fill-rule="evenodd" d="M1184 25L1023 437 347 437 185 25 41 25 596 1384 779 1384 1325 25ZM686 1335L579 1033 385 536 986 536 774 1079Z"/><path id="g83" fill-rule="evenodd" d="M163 -179L294 -160 313 -201 346 -243 378 -268 421 -291 469 -305 524 -312 588 -312 651 -301 698 -284 731 -264 761 -240 791 -202 811 -167 829 -118 841 -62 847 0 847 233 726 111 685 77 619 43 544 23 497 18 435 18 389 24 338 37 301 52 260 77 225 108 200 138 159 216 133 305 116 413 111 539 117 664 133 772 160 862 197 934 226 971 253 998 293 1026 328 1044 377 1061 420 1069 530 1072 609 1057 678 1025 729 986 844 872 857 1057 980 1057 976 894 975 -15 968 -79 954 -145 936 -196 908 -247 878 -285 837 -322 788 -352 740 -372 686 -387 626 -396 560 -400 482 -397 423 -389 369 -376 321 -358 280 -335 245 -308 210 -270 182 -226ZM847 555L837 674 809 777 767 862 736 901 709 927 666 957 629 974 590 985 550 990 495 988 457 981 411 965 380 947 328 898 291 835 266 751 251 647 247 508 257 377 281 273 316 199 347 163 384 135 428 115 478 104 533 100 588 105 640 121 688 147 727 179 759 216 787 260 809 309 827 364 839 423ZM243 1485L311 1485 323 1450 346 1412 376 1381 414 1358 469 1340 548 1332 626 1340 681 1358 718 1381 748 1412 770 1450 783 1485 850 1485 832 1423 810 1375 780 1333 744 1296 702 1265 655 1244 603 1230 546 1226 490 1230 438 1244 391 1266 348 1297 312 1335 282 1377 260 1425Z"/><path id="g84" fill-rule="evenodd" d="M219 25L219 1057 349 1057 349 25Z"/><path id="g85" fill-rule="evenodd" d="M162 1057L282 1057 291 841 413 1009 448 1044 482 1062 525 1073 575 1077 623 1072 623 958 567 962 512 959 463 946 430 928 401 905 367 865 345 826 324 774 308 704 298 609 297 25 167 25 167 852Z"/><path id="g86" fill-rule="evenodd" d="M163 25L163 1459 293 1459 293 25Z"/><path id="g87" fill-rule="evenodd" d="M829 25L454 530 293 397 293 25 163 25 163 1459 293 1459 293 492 804 1057 946 1057 532 619 977 25Z"/><path id="g88" fill-rule="evenodd" d="M163 -179L294 -160 313 -201 346 -243 378 -268 421 -291 469 -305 524 -312 588 -312 651 -301 698 -284 731 -264 761 -240 791 -202 811 -167 829 -118 841 -62 847 0 847 233 726 111 685 77 619 43 544 23 497 18 435 18 389 24 338 37 301 52 260 77 225 108 200 138 159 216 133 305 116 413 111 539 117 664 133 772 160 862 197 934 226 971 253 998 293 1026 328 1044 377 1061 420 1069 530 1072 609 1057 678 1025 729 986 844 872 857 1057 980 1057 976 894 975 -15 968 -79 954 -145 936 -196 908 -247 878 -285 837 -322 788 -352 740 -372 686 -387 626 -396 560 -400 482 -397 423 -389 369 -376 321 -358 280 -335 245 -308 210 -270 182 -226ZM847 541L839 662 813 767 774 851 718 919 677 950 641 969 603 982 564 989 522 990 470 984 422 970 390 954 336 908 300 853 271 774 254 675 247 524 255 391 277 283 310 209 338 171 374 141 417 120 465 106 519 100 575 103 628 116 676 139 718 171 752 206 780 248 804 297 824 353 837 411Z"/><path id="g89" fill-rule="evenodd" d="M159 25L163 205 163 1459 293 1459 292 882 437 1019 481 1044 532 1062 615 1076 704 1075 780 1061 852 1029 898 994 941 943 975 879 998 811 1016 722 1026 632 1028 532 1023 428 1001 294 984 237 959 179 933 136 898 94 864 65 818 38 751 15 683 6 602 7 520 23 471 42 429 68 296 199 284 25ZM889 540L883 675 863 785 830 870 786 926 758 949 714 971 677 981 623 988 568 986 518 978 472 962 441 946 388 901 347 839 318 758 300 660 293 529 301 396 324 287 360 209 396 163 433 133 476 111 525 96 578 89 647 90 708 104 751 125 779 145 811 180 834 217 854 263 879 378Z"/><path id="g90" fill-rule="evenodd" d="M792 1301L714 1297 641 1283 574 1261 512 1230 457 1190 408 1141 368 1088 330 1019 301 942 282 858 272 766 272 670 281 578 299 492 327 413 359 351 398 295 438 250 491 204 540 172 593 147 650 128 710 116 787 110 858 113 925 124 998 147 1056 176 1109 213 1167 267 1211 322 1257 394 1365 340 1318 262 1261 193 1205 142 1133 93 1054 54 969 27 877 11 791 7 715 10 644 19 577 34 514 55 455 82 397 116 353 149 305 194 263 246 232 293 201 352 174 421 153 496 141 563 131 711 137 825 157 940 190 1042 238 1133 299 1213 367 1276 454 1331 543 1368 666 1395 790 1403 928 1394 1049 1365 1144 1324 1231 1261 1297 1190 1351 1097 1222 1054 1190 1111 1151 1161 1105 1203 1053 1238 997 1265 937 1284 874 1296Z"/><path id="g91" fill-rule="evenodd" d="M290 866L454 1019 515 1051 577 1068 637 1074 691 1074 787 1061 861 1030 913 984 940 941 958 895 970 841 977 778 979 27 852 27 852 718 845 801 829 865 810 904 792 926 748 961 690 982 602 990 549 986 512 978 466 961 434 942 405 920 371 884 328 814 306 744 296 666 295 27 169 27 169 1457 295 1457 295 1074Z"/><path id="g92" fill-rule="evenodd" d="M164 1055L290 1055 290 27 164 27ZM164 1457L290 1457 290 1339 164 1339Z"/><path id="g93" fill-rule="evenodd" d="M287 1055L287 381 292 298 303 241 329 180 355 147 377 129 410 111 447 100 537 92 591 96 629 104 697 134 727 155 763 191 807 260 831 331 843 426 844 1055 970 1055 974 27 858 27 848 228 728 100 689 66 628 32 564 14 503 8 448 8 351 21 311 35 269 58 241 81 215 112 194 151 178 198 162 305 160 1055Z"/><path id="g94" fill-rule="evenodd" d="M167 834L180 878 198 917 221 951 249 981 282 1007 320 1028 403 1058 468 1069 530 1074 661 1069 719 1059 769 1042 814 1021 851 994 890 953 916 912 938 855 948 800 952 738 952 256 963 172 984 126 1018 97 1063 85 1112 86 1112 28 1037 18 975 18 932 26 892 44 870 66 853 95 805 246 710 128 672 89 614 50 545 23 453 8 350 11 266 32 231 50 202 72 164 115 137 167 120 229 114 289 117 351 130 416 150 463 185 511 228 549 273 575 328 597 394 613 525 628 824 633 823 750 817 808 807 846 788 890 768 919 743 943 712 962 677 976 625 988 565 992 502 989 448 980 402 963 363 938 338 910 313 865 300 822ZM455 88L549 99 622 125 689 167 746 225 789 294 815 369 824 432 824 562 553 555 449 543 398 529 358 511 323 487 293 457 266 411 248 344 246 268 263 199 291 154 331 119 381 97Z"/><path id="g95" fill-rule="evenodd" d="M183 27L183 126 542 126 542 1289 224 1062 224 1166 538 1382 669 1382 669 126 1012 126 1012 27Z"/><path id="g96" fill-rule="evenodd" d="M214 27L214 192 355 192 355 27Z"/><path id="g97" fill-rule="evenodd" d="M115 292L245 307 280 232 306 197 337 167 373 143 413 124 457 110 505 103 611 103 696 124 769 164 827 224 857 275 881 346 892 426 889 510 875 573 849 630 811 680 756 727 713 750 654 769 589 778 520 777 453 766 393 745 337 714 289 678 152 678 195 1382 944 1382 944 1283 309 1283 278 775 396 831 446 851 524 867 598 872 684 866 760 848 828 819 895 772 946 718 984 656 1010 586 1024 508 1024 408 1009 316 984 245 943 174 902 127 855 89 802 58 743 34 677 18 605 9 526 7 450 14 393 25 331 45 276 72 234 101 196 136 159 185 135 233Z"/><path id="g98" fill-rule="evenodd" d="M118 491L118 597 564 597 564 491Z"/><path id="g99" fill-rule="evenodd" d="M109 338L242 350 257 295 274 255 296 219 323 188 354 161 390 140 429 123 484 109 545 103 600 103 694 118 741 136 773 154 811 184 835 211 855 241 874 287 885 339 889 395 884 449 874 486 858 520 828 562 800 588 762 614 678 648 576 664 443 666 443 768 573 771 627 779 677 793 751 831 788 864 811 893 842 960 850 998 852 1052 846 1106 836 1143 815 1188 794 1218 740 1265 672 1295 576 1309 477 1301 427 1286 393 1270 333 1225 309 1197 283 1154 260 1078 133 1088 145 1140 165 1190 185 1227 216 1268 254 1305 295 1335 340 1359 389 1378 454 1394 513 1401 590 1403 654 1398 712 1388 774 1369 820 1348 868 1317 905 1282 929 1251 954 1208 968 1169 979 1116 983 1057 980 1008 969 954 939 888 914 855 886 828 844 798 693 719 850 657 895 632 956 578 996 517 1010 478 1019 435 1022 389 1019 328 1011 282 995 231 978 194 950 152 907 107 861 74 797 43 734 24 651 11 571 7 494 10 413 23 350 42 295 67 246 98 208 131 170 178 145 223 125 273Z"/><path id="g100" fill-rule="evenodd" d="M392 27L403 165 429 312 467 452 523 604 592 756 680 918 778 1081 912 1283 132 1283 132 1382 1009 1382 1009 1271 867 1047 757 857 685 710 624 558 583 430 553 299 534 164 526 27Z"/><path id="g101" fill-rule="evenodd" d="M750 592L750 27 614 27 614 592 95 1382 240 1382 684 688 1126 1382 1271 1382Z"/><path id="g102" fill-rule="evenodd" d="M1026 542L1018 409 991 287 973 239 946 188 914 144 880 109 833 74 789 50 740 31 687 18 616 9 552 7 490 11 433 21 344 51 269 100 211 164 163 249 131 352 115 474 115 615 133 744 161 834 201 909 252 970 322 1020 407 1055 499 1072 611 1074 720 1060 791 1037 860 999 909 955 952 897 985 825 1008 740 1022 640ZM891 542L880 703 869 764 852 819 830 866 806 901 774 934 735 960 680 983 616 994 546 995 480 986 421 965 380 941 338 900 307 855 275 774 254 661 248 527 257 399 278 303 311 223 360 159 417 118 449 104 497 91 549 86 606 88 659 96 707 112 750 135 778 157 803 183 827 219 864 309 884 409Z"/><path id="g103" fill-rule="evenodd" d="M164 1055L280 1055 290 835 414 1008 449 1042 483 1060 525 1071 575 1075 621 1070 621 960 552 964 512 961 463 947 429 930 399 906 365 866 343 827 322 775 306 704 296 609 295 27 169 27 169 852Z"/><path id="g104" fill-rule="evenodd" d="M830 27L455 533 291 398 291 27 165 27 165 1457 291 1457 291 487 805 1055 941 1055 530 619 973 27Z"/><path id="g105" fill-rule="evenodd" d="M91 233L197 254 230 193 255 165 286 141 350 111 438 94 543 91 641 102 708 126 757 162 773 182 791 217 802 285 797 327 789 354 759 399 723 429 667 458 354 548 282 576 232 604 180 650 145 701 129 761 129 831 136 873 149 911 167 944 191 974 222 1000 260 1024 306 1043 358 1057 431 1068 499 1072 567 1070 640 1062 694 1050 751 1030 792 1007 830 977 871 922 898 857 789 844 771 882 746 914 714 940 682 959 636 975 585 985 465 988 371 972 338 960 306 940 277 910 262 886 253 859 248 814 253 771 270 732 297 701 331 676 418 641 634 583 732 551 806 514 862 468 889 430 909 390 919 347 923 287 918 243 905 193 882 150 851 112 811 80 771 56 715 34 662 21 591 10 525 7 441 9 366 18 263 45 221 65 188 87 157 115 131 147 110 184Z"/><path id="g106" fill-rule="evenodd" d="M246 530L259 380 272 320 293 265 319 217 356 171 394 140 437 116 484 99 536 90 608 89 664 95 738 117 792 148 842 193 877 248 982 218 949 161 908 113 859 75 800 44 731 23 653 10 565 7 490 12 423 26 362 47 308 76 261 112 221 155 185 209 156 273 137 335 122 416 115 506 116 615 126 700 141 766 166 836 199 896 240 949 284 989 342 1026 410 1053 474 1068 558 1075 642 1071 715 1059 779 1037 835 1007 884 967 925 919 959 860 986 792 1005 714 1017 626 1021 530ZM246 614L895 614 877 729 860 792 832 856 802 901 760 940 708 970 649 988 568 996 501 990 440 972 386 942 340 899 306 852 276 786 260 725Z"/><path id="g108" fill-rule="evenodd" d="M693 1280L693 27 557 27 557 1280 73 1280 73 1382 1177 1382 1177 1280Z"/><path id="g109" fill-rule="evenodd" d="M130 27L130 121 171 203 221 281 289 364 374 451 475 541 650 684 752 785 799 849 831 906 847 956 856 1024 854 1080 847 1120 830 1168 812 1200 788 1229 751 1261 718 1280 670 1297 602 1308 530 1307 465 1294 406 1269 356 1232 315 1184 286 1127 272 1073 142 1085 157 1146 178 1195 218 1256 280 1315 350 1358 430 1387 522 1401 638 1400 731 1385 819 1352 875 1315 916 1274 948 1225 970 1169 984 1104 986 1022 976 957 952 892 901 806 824 716 716 615 489 425 386 324 326 250 244 126 1009 126 1009 27Z"/><path id="g110" fill-rule="evenodd" d="M854 346L854 27 738 27 738 346 74 346 74 451 706 1382 854 1382 854 434 1052 434 1052 346ZM161 434L738 434 738 1274 261 571Z"/><path id="g111" fill-rule="evenodd" d="M1231 985L1228 926 1218 871 1202 821 1175 766 1145 724 1102 680 1054 645 1009 621 918 591 824 578 332 576 332 27 195 27 195 1382 802 1381 902 1370 999 1343 1055 1317 1103 1284 1146 1242 1175 1203 1202 1149 1218 1099 1228 1045ZM1093 983L1089 1038 1081 1079 1051 1151 1029 1182 1001 1209 970 1231 924 1253 862 1272 778 1282 332 1283 332 673 785 674 867 685 928 704 973 727 1004 751 1030 778 1052 810 1082 884Z"/><path id="g112" fill-rule="evenodd" d="M165 1055L281 1055 291 858 442 1019 500 1052 573 1071 633 1075 697 1071 752 1059 797 1040 834 1013 860 983 928 862 1001 960 1039 1000 1088 1036 1144 1060 1221 1074 1310 1072 1385 1056 1444 1026 1481 990 1507 946 1529 878 1540 806 1544 721 1544 27 1420 27 1420 719 1412 805 1395 874 1365 928 1328 959 1268 983 1195 990 1115 979 1078 966 1045 946 1016 922 990 892 951 822 931 752 920 657 919 27 795 27 795 703 791 778 780 842 752 911 713 953 656 979 570 990 491 979 455 965 422 946 367 891 327 822 306 751 295 657 294 27 169 27Z"/><path id="g113" fill-rule="evenodd" d="M165 1055L281 1055 291 854 442 1010 501 1046 564 1065 663 1075 717 1073 777 1063 854 1034 884 1013 914 983 941 939 958 894 970 840 977 777 979 27 852 27 852 716 845 797 829 861 810 902 793 925 750 960 692 982 602 990 548 986 510 978 442 948 412 927 376 891 332 822 308 751 296 656 295 27 169 27Z"/><path id="g114" fill-rule="evenodd" d="M350 1218L311 1210 311 27 195 27 195 1382 400 1382 769 423 856 135 946 410 1312 1382 1511 1382 1511 27 1393 27 1393 1202 1353 1210 904 27 808 27Z"/><path id="g115" fill-rule="evenodd" d="M165 27L165 1457 291 1457 291 27Z"/><path id="g116" fill-rule="evenodd" d="M527 29L455 16 384 11 332 13 291 23 257 40 226 69 206 101 192 143 183 229 183 978 58 978 58 1055 185 1055 238 1297 309 1297 309 1055 509 1055 509 978 309 978 309 268 318 189 341 141 374 115 417 102 461 100 527 108Z"/><path id="g117" fill-rule="evenodd" d="M1148 27L1148 680 332 680 332 27 195 27 195 1382 332 1382 332 786 1148 786 1148 1382 1285 1382 1285 27Z"/><path id="g118" fill-rule="evenodd" d="M503 57L606 367 845 1055 978 1055 594 27 419 27 46 1055 180 1055 411 370Z"/><path id="g119" fill-rule="evenodd" d="M388 738L277 809 238 842 192 901 163 969 150 1045 155 1135 177 1203 221 1272 276 1322 346 1362 430 1389 526 1402 631 1400 734 1383 821 1349 886 1304 941 1241 975 1167 985 1114 988 1067 977 977 950 908 906 848 867 814 746 739 877 673 926 637 954 607 983 565 1013 486 1022 430 1022 369 1017 311 1004 259 986 211 961 169 930 130 894 97 820 53 730 23 623 9 504 10 409 24 317 55 249 96 192 150 164 191 146 227 123 308 117 415 133 504 148 544 169 580 219 638 262 670ZM890 410L884 479 866 541 836 593 803 628 755 660 687 687 623 698 538 700 472 692 413 673 361 644 316 605 288 566 263 510 250 447 249 382 259 303 278 244 308 194 348 153 398 122 457 101 523 90 602 89 671 97 732 115 783 144 818 174 850 220 873 274 886 338ZM855 1057L851 1116 838 1168 816 1214 784 1253 744 1283 696 1304 641 1318 566 1323 496 1318 446 1307 391 1283 354 1256 323 1220 300 1177 285 1127 279 1057 285 986 300 935 324 890 356 853 394 824 449 799 499 787 568 782 642 787 694 800 750 826 788 855 816 892 837 935 850 985Z"/><path id="g120" fill-rule="evenodd" d="M64 328L197 350 226 261 273 190 300 163 332 141 367 124 404 113 486 109 550 123 606 154 650 198 674 237 691 281 703 331 708 386 709 1280 438 1280 438 1382 845 1382 844 381 837 321 822 256 799 198 767 147 727 102 687 70 634 40 584 23 518 10 457 7 392 10 325 23 281 37 234 60 193 90 156 126 125 170 103 211 80 268Z"/><path id="g121" fill-rule="evenodd" d="M248 546L259 389 271 329 288 275 310 228 335 190 370 154 411 127 469 104 534 95 605 100 669 119 725 153 761 189 793 246 810 305 938 297 922 238 900 190 865 139 820 94 769 59 712 32 648 15 578 8 503 9 424 21 373 37 318 63 270 98 227 141 190 194 164 247 140 318 126 386 116 474 114 570 119 648 132 732 149 796 176 862 211 919 248 964 302 1008 354 1037 413 1058 478 1071 564 1075 635 1069 700 1053 758 1028 818 988 869 935 907 872 931 804 801 794 778 858 744 910 708 943 653 971 603 984 546 988 478 982 428 969 385 947 347 918 317 881 294 839 276 789 260 719 251 638Z"/><path id="g122" fill-rule="evenodd" d="M943 620L1334 27 1179 27 813 612 332 612 332 27 195 27 195 1382 845 1382 937 1376 1018 1361 1089 1337 1151 1304 1205 1260 1238 1222 1264 1178 1284 1130 1296 1077 1301 1018 1299 958 1289 902 1272 850 1248 803 1223 768 1195 737 1155 704 1110 676 1070 658ZM1163 1004L1159 1057 1151 1095 1132 1140 1112 1170 1088 1197 1051 1226 976 1261 913 1275 842 1282 332 1283 332 709 849 710 918 717 979 734 1053 772 1089 803 1113 832 1132 864 1151 911 1159 949Z"/><path id="g123" fill-rule="evenodd" d="M160 252L279 271 295 235 320 195 350 161 377 141 406 124 449 108 497 100 548 98 597 104 632 113 697 144 752 192 803 264 838 339 866 438 903 710 744 578 704 554 651 531 585 514 526 508 456 511 393 524 335 547 284 579 237 621 200 669 165 731 144 791 130 858 123 930 130 1054 141 1109 162 1169 185 1214 219 1262 261 1305 301 1335 354 1363 413 1384 479 1398 540 1403 601 1402 667 1393 718 1380 773 1355 822 1323 859 1289 893 1249 927 1195 955 1134 974 1075 1004 926 1015 733 1012 634 1003 530 989 446 970 370 945 300 912 230 881 181 840 131 795 90 745 57 691 33 631 16 566 8 505 8 442 13 385 25 335 43 283 72 246 103 214 142 186 189ZM873 907L869 978 859 1043 841 1103 815 1157 781 1207 746 1244 694 1280 648 1298 586 1310 518 1309 455 1296 410 1276 369 1248 326 1204 295 1155 272 1099 256 1025 252 942 260 860 280 787 312 723 350 676 399 638 454 612 530 597 612 600 690 623 749 656 799 701 843 768 864 828Z"/><path id="g124" fill-rule="evenodd" d="M1032 705L1022 516 1009 433 988 347 964 280 931 212 893 154 850 108 803 71 740 38 670 17 603 8 519 9 454 19 394 38 332 70 285 107 250 145 215 195 185 252 160 316 139 388 114 541 108 634 107 749 112 846 123 948 138 1028 162 1109 187 1172 221 1234 265 1289 325 1339 396 1374 467 1394 560 1403 656 1397 740 1376 812 1340 866 1297 906 1250 944 1186 977 1107 1003 1014 1019 921 1029 818ZM903 705L895 897 872 1040 851 1109 829 1159 803 1202 772 1238 736 1267 683 1293 624 1307 560 1311 496 1303 449 1289 397 1261 361 1231 330 1194 303 1146 282 1093 265 1032 242 885 235 689 245 503 270 363 289 304 312 253 338 210 370 174 417 139 459 118 506 106 569 100 632 106 678 119 721 139 767 176 799 213 826 256 849 310 868 370 894 514Z"/><path id="g125" fill-rule="evenodd" d="M126 317L259 344 274 305 299 259 330 220 368 186 410 160 461 137 519 120 583 109 727 102 797 107 861 117 960 149 997 170 1037 201 1069 237 1087 269 1103 315 1110 366 1107 422 1097 461 1080 496 1056 528 1001 572 921 609 847 632 502 716 409 749 330 789 264 842 237 876 215 914 192 984 187 1076 194 1130 208 1179 235 1231 266 1269 313 1310 361 1339 425 1366 489 1383 572 1397 666 1403 778 1400 866 1391 943 1375 1008 1353 1064 1323 1111 1285 1162 1219 1204 1127 1070 1104 1048 1154 1013 1205 967 1246 918 1274 864 1293 791 1307 707 1313 617 1310 537 1298 479 1282 429 1258 389 1230 356 1194 333 1151 321 1102 318 1047 330 988 358 939 395 902 454 865 569 825 886 748 982 718 1099 663 1137 636 1171 604 1205 557 1229 504 1241 451 1245 377 1238 311 1220 251 1192 198 1154 151 1104 109 1047 75 971 45 896 25 799 12 704 7 610 9 513 20 436 36 369 58 309 86 257 120 213 160 177 206 148 258Z"/><path id="g126" fill-rule="evenodd" d="M110 27L110 128 742 970 144 970 144 1055 874 1055 874 954 241 112 895 112 895 27Z"/><path id="g127" fill-rule="evenodd" d="M161 1055L282 1055 294 873 427 1007 469 1036 514 1055 590 1071 680 1073 749 1065 819 1043 862 1019 899 989 932 951 960 907 982 855 1001 794 1021 661 1026 561 1023 453 1012 358 994 275 969 203 936 144 897 95 850 58 782 26 709 10 618 8 541 19 484 38 436 65 290 194 291 -398 165 -398 165 879ZM891 542L885 677 865 786 831 871 786 927 757 950 713 972 677 982 623 989 566 987 513 978 466 962 435 945 389 905 346 839 315 755 297 651 291 512 299 395 323 285 358 207 395 161 432 131 475 109 524 94 592 86 649 88 712 103 756 126 786 149 818 186 839 221 857 268 882 382Z"/><path id="g128" fill-rule="evenodd" d="M246 686L381 804 415 829 484 862 551 878 649 883 740 871 818 843 861 817 893 792 946 732 989 652 1015 557 1022 461 1015 362 991 265 951 183 894 113 838 69 774 37 701 17 632 8 546 9 469 22 400 46 340 83 293 123 247 180 210 244 183 309 159 392 144 473 134 575 131 672 134 783 144 885 161 978 183 1062 212 1138 253 1211 298 1272 343 1315 411 1359 477 1386 551 1400 632 1403 708 1395 784 1373 841 1344 896 1298 940 1240 975 1164 856 1143 821 1209 774 1259 715 1293 645 1309 568 1309 509 1296 455 1271 408 1235 374 1198 344 1154 317 1100 295 1038 267 908ZM893 453L889 522 876 585 855 641 832 681 794 725 755 754 711 776 650 793 582 799 514 794 453 777 409 755 360 718 320 671 297 627 280 565 274 496 281 402 299 328 328 262 369 202 414 157 478 119 537 102 615 99 679 110 747 139 796 177 840 232 870 297 887 370Z"/><path id="g129" fill-rule="evenodd" d="M332 1280L332 702 1118 702 1118 598 332 598 332 27 195 27 195 1382 1142 1382 1142 1280Z"/><path id="g130" fill-rule="evenodd" d="M898 738L1046 680 1102 650 1162 596 1187 562 1206 526 1222 476 1229 432 1231 385 1226 329 1217 288 1199 241 1175 199 1143 160 1089 115 1030 81 950 52 870 36 754 27 195 27 195 1382 694 1382 810 1375 888 1362 956 1342 1012 1316 1064 1280 1090 1253 1115 1216 1141 1145 1149 1055 1144 1008 1135 966 1109 908 1065 852 1026 820ZM1092 412L1082 494 1069 530 1050 563 1026 593 997 618 925 656 848 677 758 687 332 688 332 126 775 127 857 136 927 155 967 174 1002 197 1050 251 1080 318 1088 357ZM1011 1044L1000 1124 973 1180 931 1223 862 1258 804 1273 724 1282 332 1283 332 783 711 784 795 793 855 809 925 846 968 891 987 924 1001 961Z"/><path id="g131" fill-rule="evenodd" d="M848 889L848 1457 974 1457 974 205 978 27 859 27 846 210 709 71 667 44 607 22 524 8 424 10 340 30 272 65 236 96 210 125 166 204 133 314 116 437 114 590 129 735 160 853 182 902 208 945 265 1007 301 1032 342 1051 430 1072 534 1073 622 1056 685 1028 720 1003ZM248 542L254 407 274 296 307 211 351 154 380 132 425 109 462 99 516 92 571 94 622 103 668 119 700 135 753 181 794 245 823 326 841 424 848 570 839 697 815 802 780 876 743 921 706 951 662 973 614 988 560 995 492 994 430 980 387 959 358 938 326 903 303 866 283 819 258 704Z"/><path id="g132" fill-rule="evenodd" d="M165 -180L293 -162 311 -202 345 -244 377 -270 420 -292 469 -307 524 -314 588 -314 651 -303 699 -286 732 -266 762 -241 793 -203 813 -168 831 -118 843 -62 849 0 849 238 725 112 684 79 618 45 544 24 497 20 435 20 390 26 338 39 302 54 261 78 226 110 202 140 161 216 135 305 118 413 113 539 119 664 135 771 162 861 199 933 227 970 262 1003 302 1029 338 1046 388 1061 432 1069 492 1072 541 1069 619 1052 686 1018 728 984 845 867 859 1055 978 1055 973 -15 966 -78 952 -145 934 -195 906 -246 877 -283 836 -320 788 -350 740 -370 686 -385 626 -394 560 -398 482 -395 423 -387 370 -374 322 -356 281 -333 247 -307 211 -269 183 -225ZM849 541L841 662 815 767 775 852 720 920 678 952 642 971 604 984 564 991 522 992 469 986 421 972 389 956 334 909 298 854 269 774 252 675 245 524 253 390 275 282 308 208 337 170 373 140 416 118 465 104 519 98 575 101 628 114 677 138 719 169 753 205 782 247 806 296 826 352 839 410Z"/><path id="g133" fill-rule="evenodd" d="M233 -235L266 -172 288 -115 299 -68 312 27 217 27 217 192 358 192 356 -18 349 -78 337 -130 317 -185 292 -235Z"/></defs>

<g id="dog">
<path d="M113.2,142.3 C117,147 127,161 149,167.8 L160,168" fill="none" stroke="#000" stroke-width="19" stroke-linecap="round"/>
<path fill="#000" d="M151,179 L150,160 L151,158.5 L254,158.5 L268.5,164 L279.6,151.6 L318.7,111.5 L319.7,110.4 L326.5,84.4 L341.6,103.1
 L352.6,105.7 L363,108.9 C368,111.5 372,116 373.4,119.8 C375,125 376.5,133 377.6,138.6 C378.5,142 379.5,143 380.7,143.8
 L390.1,151.1 C394,155 397,158 397.8,160.5 C399,164 398,167.5 395.3,170.9 C392,174 388,177.1 382.8,180.8
 L375.5,180.3 L354.7,177.7 L342.1,175.6 L337.5,188.1 L331.7,202.7 L326.5,215.7 C325,219 324.2,222 324.4,223 L325,228.2
 L330,252 L303,258 L299.5,254.8 L296,254 L292.5,254.8 L289.5,258 L270,258 L262,249.6 L246,248 L215,244.5
 C212.5,244.5 211.5,245.5 211,247 L200,250 L181,245 L179,241.5 L176.7,240.8 L174.5,241.5 L172.5,245 L155,250 L149.5,225 Z"/>
<path d="M163.1,225 L143.3,308.7" stroke="#000" stroke-width="27" stroke-linecap="round"/>
<path d="M190.1,224 L210.7,308.7" stroke="#000" stroke-width="27.5" stroke-linecap="round"/>
<path d="M281.9,228.7 L263.3,308.7" stroke="#000" stroke-width="27.5" stroke-linecap="round"/>
<path d="M310.4,228.7 L330.7,308.7" stroke="#000" stroke-width="27.5" stroke-linecap="round"/>
<path fill="#c41e26" d="M254,158.5 L268.5,164 C266,190 263.5,220 261.5,249.5 L246,247.7 C248,218 251,188 254,158.5 Z"/>
<path fill="#0bab88" d="M268.5,164.2 L279.6,151.8 C291,164 302,172 313,178.2 C321,182.5 329,185.5 337.5,188.1 L331.7,202.7 C322,200 314,197.5 307.8,194.9 C299,190.5 292,186 286.9,181.3 C280.5,175.5 274.5,170 268.5,164.2 Z"/>
<circle cx="316.6" cy="164.4" r="12.7" fill="#0bab88"/>
<circle cx="228.5" cy="205" r="12.75" fill="#c41e26"/>
</g>

<g fill="#000"><use href="#g0" transform="translate(494.34 203.10) scale(0.036463 -0.047906)"/><use href="#g1" transform="translate(545.04 203.10) scale(0.042349 -0.047906)"/><use href="#g2" transform="translate(566.08 203.10) scale(0.038669 -0.047906)"/><use href="#g3" transform="translate(596.68 203.10) scale(0.049038 -0.047906)"/><use href="#g4" transform="translate(630.30 203.10) scale(0.040154 -0.047906)"/><use href="#g5" transform="translate(697.84 203.10) scale(0.038220 -0.047906)"/><use href="#g6" transform="translate(739.51 203.10) scale(0.037335 -0.047906)"/><use href="#g7" transform="translate(779.55 203.10) scale(0.038124 -0.047906)"/></g>
<g fill="none" stroke="#000" stroke-width="2.2" stroke-linejoin="round">
<path d="M894.2,154.7 C894.2,143.5 885.5,137 873.4,137 C861.5,137 853.1,143.5 853.1,152.5 C853.1,161.5 861,165.5 873,169.3 C886,173.5 895.6,177.5 895.6,186.7 C895.6,196 886.5,201.7 873.4,201.7 C860,201.7 851.5,195 851.5,183.8"/>
<path d="M910.8,153.8 L910.8,201.8 M910.8,132 L910.8,138"/>
<path d="M925.4,154.4 L958.3,154.4 L925.6,201 L961.9,201" stroke-linejoin="miter"/>
<path d="M968.9,175.1 L1005.2,175.1 C1005.2,162 998,153.7 986.9,153.7 C975.5,153.7 968.9,163 968.9,175.1 L968.9,181 C968.9,194 976.5,201.7 988,201.7 C995.5,201.7 1000.5,199 1003.8,195.4"/>
<path d="M1084,156.6 C1084,144.5 1075,137 1062.2,137 C1048.5,137 1039.6,145.5 1039.6,158.5 L1039.6,180.5 C1039.6,193 1048.5,201.7 1062.2,201.7 C1075,201.7 1084,194 1084,181.8"/>
<path d="M1100.8,132 L1100.8,201.8 M1100.8,166.5 C1102,158.5 1109,153.4 1117.8,153.4 C1127.8,153.4 1133.5,159 1133.5,171 L1133.5,201.8"/>
<path d="M1150.2,166.2 C1150.2,158.5 1156.5,153.7 1165.6,153.7 C1175,153.7 1180.8,159 1180.8,168 L1180.8,190 C1180.8,195 1181.5,199 1182.7,201.8 M1180.8,176.2 L1163.8,176.2 C1153.5,176.2 1147.5,181.5 1147.5,189.3 C1147.5,196.5 1153,201.7 1162,201.7 C1171,201.7 1178,197.5 1180.8,192"/>
<path d="M1200,153.8 L1200,201.8 M1200,168.5 C1201.5,159 1208,154 1216.5,154 L1220,154"/>
<path d="M1234.1,140.4 L1234.1,193 C1234.1,199 1237,201.8 1242,201.8 L1247.8,201.6 M1224.2,154.4 L1246.9,154.4"/>
</g>
<g transform="translate(1305.82 116.70) scale(0.014442 -0.015117)" fill="#d0302f"><use href="#g8" x="0"/><use href="#g9" x="569"/><use href="#g10" x="2390"/><use href="#g11" x="3641"/><use href="#g12" x="4892"/><use href="#g13" x="5689"/><use href="#g14" x="6371"/><use href="#g15" x="7510"/><use href="#g13" x="8761"/><use href="#g16" x="9443"/></g>
<rect x="1306.10" y="121.20" width="144.70" height="1.70" fill="#d0302f"/>
<g transform="translate(1305.69 153.10) scale(0.014946 -0.014336)" fill="#d0302f"><use href="#g17" x="0"/><use href="#g18" x="1366"/><use href="#g19" x="1821"/><use href="#g20" x="2960"/><use href="#g21" x="4099"/><use href="#g19" x="5123"/><use href="#g23" x="6831"/><use href="#g20" x="7400"/><use href="#g24" x="8539"/><use href="#g19" x="9563"/><use href="#g25" x="11271"/><use href="#g26" x="12295"/><use href="#g27" x="13434"/><use href="#g28" x="14573"/><use href="#g29" x="15824"/><use href="#g19" x="16963"/><use href="#g23" x="18102"/><use href="#g30" x="18671"/><use href="#g21" x="19126"/><use href="#g31" x="20719"/><use href="#g32" x="21743"/><use href="#g19" x="22882"/><use href="#g21" x="24021"/><use href="#g23" x="25045"/><use href="#g21" x="26183"/><use href="#g33" x="27207"/><use href="#g34" x="27662"/><use href="#g19" x="28686"/></g>
<g transform="translate(1305.53 190.00) scale(0.014934 -0.014336)" fill="#d0302f"><use href="#g35" x="0"/><use href="#g19" x="1139"/><use href="#g36" x="2278"/><use href="#g26" x="2847"/><use href="#g28" x="3986"/><use href="#g19" x="4668"/><use href="#g31" x="6376"/><use href="#g32" x="7400"/><use href="#g26" x="8539"/><use href="#g26" x="9678"/><use href="#g21" x="10817"/><use href="#g33" x="11841"/><use href="#g37" x="12296"/><use href="#g38" x="13435"/><use href="#g20" x="15143"/><use href="#g21" x="16851"/><use href="#g33" x="17875"/><use href="#g34" x="18330"/><use href="#g19" x="19354"/><use href="#g39" x="20493"/><use href="#g40" x="21631"/><use href="#g32" x="23110"/><use href="#g19" x="24249"/><use href="#g21" x="25388"/><use href="#g23" x="26412"/><use href="#g21" x="27550"/><use href="#g33" x="28574"/><use href="#g34" x="29029"/><use href="#g19" x="30053"/></g>
<g transform="translate(1305.40 227.10) scale(0.015452 -0.014336)" fill="#d0302f"><use href="#g41" x="0"/><use href="#g27" x="1706"/><use href="#g31" x="2845"/><use href="#g32" x="3869"/><use href="#g33" x="5577"/><use href="#g41" x="6032"/><use href="#g29" x="7738"/><use href="#g26" x="8877"/><use href="#g28" x="10016"/><use href="#g23" x="10698"/><use href="#g20" x="11267"/><use href="#g37" x="12406"/><use href="#g23" x="13545"/><use href="#g23" x="14683"/><use href="#g32" x="15252"/><use href="#g19" x="16391"/><use href="#g37" x="17530"/><use href="#g18" x="19238"/><use href="#g35" x="19693"/><use href="#g39" x="20832"/></g>
<g fill="#000"><use href="#g42" transform="translate(220.19 439.90) scale(0.026224 -0.028034)"/><use href="#g43" transform="translate(257.61 439.90) scale(0.025182 -0.028034)"/><use href="#g44" transform="translate(285.24 439.90) scale(0.027180 -0.028034)"/><use href="#g45" transform="translate(312.66 439.90) scale(0.025647 -0.028034)"/></g>
<g fill="#000"><use href="#g46" transform="translate(207.64 542.90) scale(0.022668 -0.027982)"/><use href="#g47" transform="translate(241.22 542.90) scale(0.026620 -0.027982)"/><use href="#g43" transform="translate(270.61 542.90) scale(0.025182 -0.027982)"/><use href="#g48" transform="translate(299.56 542.90) scale(0.025308 -0.027982)"/><use href="#g49" transform="translate(324.96 542.90) scale(0.030402 -0.027982)"/></g>
<circle cx="412.95" cy="426.00" r="34.90" fill="#0bab88"/>
<circle cx="412.25" cy="523.50" r="35.60" fill="#c41e26"/>
<path fill="#fff" d="M418.9,404.1 L410.4,404.1 L407.2,407.9 L407.2,408.6 L413.9,408.6 L413.9,449 L418.9,449 Z"/>
<path fill="none" stroke="#fff" stroke-width="4.6" stroke-linejoin="miter" d="M400.2,515.8 L400.2,513.9 A12.35,11.2 0 0 1 424.9,513.9 C424.9,518 423.5,521.5 420.8,524.5 L400.6,543.8 L427.6,543.8"/>
<g transform="translate(316.6 164.4) scale(0.3639) translate(-412.95 -426)"><path fill="#fff" d="M418.9,404.1 L410.4,404.1 L407.2,407.9 L407.2,408.6 L413.9,408.6 L413.9,449 L418.9,449 Z"/></g>
<g transform="translate(228.5 205) scale(0.3581) translate(-412.25 -523.5)"><path fill="none" stroke="#fff" stroke-width="4.6" stroke-linejoin="miter" d="M400.2,515.8 L400.2,513.9 A12.35,11.2 0 0 1 424.9,513.9 C424.9,518 423.5,521.5 420.8,524.5 L400.6,543.8 L427.6,543.8"/></g>
<rect x="503.00" y="342.50" width="182.30" height="54.20" fill="#5d4399"/>
<rect x="685.30" y="342.50" width="181.10" height="54.20" fill="#ffe000"/>
<rect x="866.40" y="342.50" width="181.40" height="54.20" fill="#f47b20"/>
<rect x="1047.80" y="342.50" width="180.90" height="54.20" fill="#e2118c"/>
<rect x="1228.70" y="342.50" width="182.20" height="54.20" fill="#0f8fd2"/>
<rect x="1410.90" y="342.50" width="171.50" height="54.20" fill="#09aa4c"/>
<rect x="1582.40" y="342.50" width="182.30" height="54.20" fill="#ce3535"/>
<g transform="translate(560.38 383.20) scale(0.017441 -0.018736)" fill="#fff"><use href="#g50" x="0"/><use href="#g51" x="1139"/><use href="#g52" x="2505"/></g>
<g transform="translate(741.57 383.20) scale(0.017312 -0.018736)" fill="#fff"><use href="#g53" x="0"/><use href="#g51" x="1139"/><use href="#g52" x="2505"/></g>
<g transform="translate(934.19 383.20) scale(0.017198 -0.018736)" fill="#fff"><use href="#g51" x="0"/><use href="#g52" x="1366"/></g>
<g transform="translate(1124.46 383.20) scale(0.017685 -0.018736)" fill="#fff"><use href="#g52" x="0"/></g>
<g transform="translate(1302.46 383.20) scale(0.019972 -0.018736)" fill="#fff"><use href="#g54" x="0"/></g>
<g transform="translate(1479.45 383.20) scale(0.017127 -0.018736)" fill="#fff"><use href="#g55" x="0"/></g>
<g transform="translate(1652.50 383.20) scale(0.016838 -0.018736)" fill="#fff"><use href="#g51" x="0"/><use href="#g55" x="1366"/></g>
<g transform="translate(511.79 432.55) scale(0.018085 -0.018258)" fill="#000"><use href="#g56" x="0"/><use href="#g57" x="1139"/><use href="#g58" x="2278"/><use href="#g56" x="2960"/><use href="#g59" x="4099"/><use href="#g60" x="5238"/><use href="#g61" x="6262"/></g>
<g transform="translate(698.47 432.55) scale(0.018215 -0.018258)" fill="#000"><use href="#g56" x="0"/><use href="#g59" x="1139"/><use href="#g58" x="2278"/><use href="#g56" x="2960"/><use href="#g62" x="4099"/><use href="#g60" x="5238"/><use href="#g61" x="6262"/></g>
<g transform="translate(878.77 432.55) scale(0.018215 -0.018258)" fill="#000"><use href="#g56" x="0"/><use href="#g62" x="1139"/><use href="#g58" x="2278"/><use href="#g63" x="2960"/><use href="#g57" x="4099"/><use href="#g60" x="5238"/><use href="#g61" x="6262"/></g>
<g transform="translate(1056.53 432.55) scale(0.018169 -0.018258)" fill="#000"><use href="#g63" x="0"/><use href="#g57" x="1139"/><use href="#g58" x="2278"/><use href="#g63" x="2960"/><use href="#g56" x="4099"/><use href="#g60" x="5238"/><use href="#g61" x="6262"/></g>
<g transform="translate(1245.63 432.55) scale(0.018169 -0.018258)" fill="#000"><use href="#g63" x="0"/><use href="#g56" x="1139"/><use href="#g58" x="2278"/><use href="#g63" x="2960"/><use href="#g59" x="4099"/><use href="#g60" x="5238"/><use href="#g61" x="6262"/></g>
<g transform="translate(1430.74 432.55) scale(0.018053 -0.018258)" fill="#000"><use href="#g63" x="0"/><use href="#g59" x="1139"/><use href="#g58" x="2278"/><use href="#g59" x="2960"/><use href="#g56" x="4099"/><use href="#g60" x="5238"/><use href="#g61" x="6262"/></g>
<g transform="translate(1597.80 432.55) scale(0.018097 -0.018258)" fill="#000"><use href="#g59" x="0"/><use href="#g56" x="1139"/><use href="#g58" x="2278"/><use href="#g64" x="2960"/><use href="#g59" x="4099"/><use href="#g60" x="5238"/><use href="#g61" x="6262"/></g>
<g transform="translate(520.55 462.10) scale(0.011944 -0.012452)" fill="#000"><use href="#g65" x="0"/><use href="#g66" x="1139"/><use href="#g67" x="1708"/><use href="#g65" x="2847"/><use href="#g68" x="3986"/><use href="#g69" x="4967"/><use href="#g70" x="5649"/><use href="#g66" x="6788"/><use href="#g71" x="7357"/><use href="#g71" x="8496"/><use href="#g68" x="9635"/></g>
<g transform="translate(699.64 462.10) scale(0.012063 -0.012452)" fill="#000"><use href="#g70" x="0"/><use href="#g66" x="1139"/><use href="#g71" x="1708"/><use href="#g71" x="2847"/><use href="#g68" x="3986"/><use href="#g69" x="4967"/><use href="#g72" x="5649"/><use href="#g72" x="6788"/><use href="#g66" x="7927"/><use href="#g73" x="8496"/><use href="#g74" x="9635"/><use href="#g68" x="10774"/></g>
<g transform="translate(869.65 462.10) scale(0.012022 -0.012452)" fill="#000"><use href="#g72" x="0"/><use href="#g72" x="1139"/><use href="#g66" x="2278"/><use href="#g73" x="2847"/><use href="#g74" x="3986"/><use href="#g75" x="5125"/><use href="#g69" x="6185"/><use href="#g72" x="7436"/><use href="#g72" x="8575"/><use href="#g66" x="9714"/><use href="#g67" x="10283"/><use href="#g72" x="11422"/><use href="#g68" x="12561"/></g>
<g transform="translate(1047.04 462.10) scale(0.012123 -0.012452)" fill="#000"><use href="#g72" x="0"/><use href="#g72" x="1139"/><use href="#g66" x="2278"/><use href="#g67" x="2847"/><use href="#g72" x="3986"/><use href="#g68" x="5125"/><use href="#g69" x="6106"/><use href="#g72" x="7357"/><use href="#g74" x="8496"/><use href="#g66" x="9635"/><use href="#g77" x="10204"/><use href="#g70" x="11343"/><use href="#g68" x="12482"/></g>
<g transform="translate(1239.54 462.10) scale(0.012076 -0.012452)" fill="#000"><use href="#g72" x="0"/><use href="#g74" x="1139"/><use href="#g66" x="2278"/><use href="#g77" x="2847"/><use href="#g70" x="3986"/><use href="#g68" x="5125"/><use href="#g69" x="6106"/><use href="#g72" x="6788"/><use href="#g78" x="7927"/><use href="#g66" x="9066"/><use href="#g78" x="9635"/><use href="#g67" x="10774"/><use href="#g68" x="11913"/></g>
<g transform="translate(1424.55 462.10) scale(0.012013 -0.012452)" fill="#000"><use href="#g72" x="0"/><use href="#g78" x="1139"/><use href="#g66" x="2278"/><use href="#g78" x="2847"/><use href="#g67" x="3986"/><use href="#g68" x="5125"/><use href="#g69" x="6106"/><use href="#g72" x="6788"/><use href="#g79" x="7927"/><use href="#g66" x="9066"/><use href="#g77" x="9635"/><use href="#g78" x="10774"/><use href="#g68" x="11913"/></g>
<g transform="translate(1591.04 462.10) scale(0.012115 -0.012452)" fill="#000"><use href="#g72" x="0"/><use href="#g79" x="1139"/><use href="#g66" x="2278"/><use href="#g77" x="2847"/><use href="#g73" x="3986"/><use href="#g68" x="5125"/><use href="#g69" x="6106"/><use href="#g74" x="6788"/><use href="#g72" x="7927"/><use href="#g66" x="9066"/><use href="#g74" x="9635"/><use href="#g77" x="10774"/><use href="#g68" x="11913"/></g>
<rect x="503.20" y="481.30" width="1261.40" height="4.20" fill="#c5161f"/>
<g transform="translate(508.97 540.25) scale(0.018215 -0.018188)" fill="#000"><use href="#g56" x="0"/><use href="#g59" x="1139"/><use href="#g58" x="2278"/><use href="#g56" x="2960"/><use href="#g62" x="4099"/><use href="#g60" x="5238"/><use href="#g61" x="6262"/></g>
<g transform="translate(695.98 540.25) scale(0.018176 -0.018188)" fill="#000"><use href="#g56" x="0"/><use href="#g62" x="1139"/><use href="#g58" x="2278"/><use href="#g63" x="2960"/><use href="#g56" x="4099"/><use href="#g60" x="5238"/><use href="#g61" x="6262"/></g>
<g transform="translate(876.73 540.25) scale(0.018156 -0.018188)" fill="#000"><use href="#g63" x="0"/><use href="#g56" x="1139"/><use href="#g58" x="2278"/><use href="#g63" x="2960"/><use href="#g80" x="4099"/><use href="#g60" x="5238"/><use href="#g61" x="6262"/></g>
<g transform="translate(1054.43 540.25) scale(0.018169 -0.018188)" fill="#000"><use href="#g63" x="0"/><use href="#g80" x="1139"/><use href="#g58" x="2278"/><use href="#g59" x="2960"/><use href="#g59" x="4099"/><use href="#g60" x="5238"/><use href="#g61" x="6262"/></g>
<g transform="translate(1254.50 540.25) scale(0.018097 -0.018188)" fill="#000"><use href="#g59" x="0"/><use href="#g59" x="1139"/><use href="#g58" x="2278"/><use href="#g59" x="2960"/><use href="#g62" x="4099"/><use href="#g60" x="5238"/><use href="#g61" x="6262"/></g>
<g transform="translate(1427.20 540.25) scale(0.018097 -0.018188)" fill="#000"><use href="#g59" x="0"/><use href="#g62" x="1139"/><use href="#g58" x="2278"/><use href="#g64" x="2960"/><use href="#g59" x="4099"/><use href="#g60" x="5238"/><use href="#g61" x="6262"/></g>
<g transform="translate(1603.37 540.25) scale(0.018075 -0.018188)" fill="#000"><use href="#g64" x="0"/><use href="#g59" x="1139"/><use href="#g58" x="2278"/><use href="#g80" x="2960"/><use href="#g57" x="4099"/><use href="#g60" x="5238"/><use href="#g61" x="6262"/></g>
<g transform="translate(510.14 568.60) scale(0.012063 -0.012312)" fill="#000"><use href="#g70" x="0"/><use href="#g66" x="1139"/><use href="#g71" x="1708"/><use href="#g71" x="2847"/><use href="#g68" x="3986"/><use href="#g69" x="4967"/><use href="#g72" x="5649"/><use href="#g72" x="6788"/><use href="#g66" x="7927"/><use href="#g73" x="8496"/><use href="#g74" x="9635"/><use href="#g68" x="10774"/></g>
<g transform="translate(690.04 568.60) scale(0.012076 -0.012312)" fill="#000"><use href="#g72" x="0"/><use href="#g72" x="1139"/><use href="#g66" x="2278"/><use href="#g73" x="2847"/><use href="#g74" x="3986"/><use href="#g68" x="5125"/><use href="#g69" x="6106"/><use href="#g72" x="6788"/><use href="#g74" x="7927"/><use href="#g66" x="9066"/><use href="#g77" x="9635"/><use href="#g70" x="10774"/><use href="#g68" x="11913"/></g>
<g transform="translate(873.14 568.60) scale(0.012126 -0.012312)" fill="#000"><use href="#g72" x="0"/><use href="#g74" x="1139"/><use href="#g66" x="2278"/><use href="#g77" x="2847"/><use href="#g70" x="3986"/><use href="#g75" x="5125"/><use href="#g69" x="5616"/><use href="#g72" x="6298"/><use href="#g71" x="7437"/><use href="#g66" x="8576"/><use href="#g72" x="9145"/><use href="#g65" x="10284"/><use href="#g68" x="11423"/></g>
<g transform="translate(1048.34 568.60) scale(0.012107 -0.012312)" fill="#000"><use href="#g72" x="0"/><use href="#g71" x="1139"/><use href="#g66" x="2278"/><use href="#g72" x="2847"/><use href="#g65" x="3986"/><use href="#g68" x="5125"/><use href="#g69" x="6106"/><use href="#g72" x="6788"/><use href="#g65" x="7927"/><use href="#g66" x="9066"/><use href="#g78" x="9635"/><use href="#g74" x="10774"/><use href="#g68" x="11913"/></g>
<g transform="translate(1247.73 568.60) scale(0.012178 -0.012312)" fill="#000"><use href="#g72" x="0"/><use href="#g65" x="1139"/><use href="#g66" x="2278"/><use href="#g78" x="2847"/><use href="#g74" x="3986"/><use href="#g68" x="5125"/><use href="#g69" x="6106"/><use href="#g72" x="6788"/><use href="#g67" x="7927"/><use href="#g66" x="9066"/><use href="#g67" x="9635"/><use href="#g70" x="10774"/><use href="#g68" x="11913"/></g>
<g transform="translate(1421.24 568.60) scale(0.012115 -0.012312)" fill="#000"><use href="#g72" x="0"/><use href="#g67" x="1139"/><use href="#g66" x="2278"/><use href="#g67" x="2847"/><use href="#g70" x="3986"/><use href="#g68" x="5125"/><use href="#g69" x="6106"/><use href="#g74" x="6788"/><use href="#g72" x="7927"/><use href="#g66" x="9066"/><use href="#g74" x="9635"/><use href="#g77" x="10774"/><use href="#g68" x="11913"/></g>
<g transform="translate(1597.15 568.60) scale(0.011986 -0.012312)" fill="#000"><use href="#g74" x="0"/><use href="#g72" x="1139"/><use href="#g66" x="2278"/><use href="#g74" x="2847"/><use href="#g77" x="3986"/><use href="#g81" x="5125"/><use href="#g69" x="6149"/><use href="#g74" x="6831"/><use href="#g78" x="7970"/><use href="#g66" x="9109"/><use href="#g79" x="9678"/><use href="#g73" x="10817"/><use href="#g81" x="11956"/></g>
<g transform="translate(26.87 706.35) scale(0.019335 -0.021859)" fill="#000"><use href="#g82" x="0"/><use href="#g83" x="1366"/><use href="#g84" x="2505"/><use href="#g85" x="3074"/><use href="#g86" x="3756"/><use href="#g84" x="4211"/><use href="#g87" x="4780"/></g>
<g transform="translate(300.87 706.35) scale(0.021606 -0.021859)" fill="#000"><use href="#g87" x="0"/><use href="#g88" x="1024"/></g>
<g transform="translate(435.06 706.35) scale(0.021679 -0.021859)" fill="#000"><use href="#g86" x="0"/><use href="#g89" x="455"/></g>
<g transform="translate(25.83 777.25) scale(0.011772 -0.013151)" fill="#000"><use href="#g90" x="0"/><use href="#g91" x="1479"/><use href="#g92" x="2618"/><use href="#g91" x="3073"/><use href="#g93" x="4212"/><use href="#g94" x="5351"/><use href="#g91" x="6490"/><use href="#g93" x="7629"/><use href="#g94" x="8768"/></g>
<g transform="translate(290.79 777.25) scale(0.012573 -0.013151)" fill="#000"><use href="#g95" x="0"/><use href="#g96" x="1139"/><use href="#g97" x="1708"/><use href="#g98" x="2847"/><use href="#g99" x="3529"/></g>
<g transform="translate(441.33 777.25) scale(0.013134 -0.013151)" fill="#000"><use href="#g99" x="0"/><use href="#g98" x="1139"/><use href="#g100" x="1821"/></g>
<g transform="translate(26.53 848.04) scale(0.011661 -0.013151)" fill="#000"><use href="#g101" x="0"/><use href="#g102" x="1366"/><use href="#g103" x="2505"/><use href="#g104" x="3187"/><use href="#g105" x="4211"/><use href="#g91" x="5235"/><use href="#g92" x="6374"/><use href="#g103" x="6829"/><use href="#g106" x="7511"/><use href="#g108" x="9219"/><use href="#g106" x="10470"/><use href="#g103" x="11609"/><use href="#g103" x="12291"/><use href="#g92" x="12973"/><use href="#g106" x="13428"/><use href="#g103" x="14567"/></g>
<g transform="translate(291.06 848.04) scale(0.012503 -0.013151)" fill="#000"><use href="#g109" x="0"/><use href="#g98" x="1139"/><use href="#g99" x="1821"/><use href="#g96" x="2960"/><use href="#g97" x="3529"/></g>
<g transform="translate(435.64 848.04) scale(0.013060 -0.013151)" fill="#000"><use href="#g110" x="0"/><use href="#g98" x="1139"/><use href="#g100" x="1821"/></g>
<g transform="translate(25.73 918.83) scale(0.012046 -0.013151)" fill="#000"><use href="#g111" x="0"/><use href="#g102" x="1366"/><use href="#g112" x="2505"/><use href="#g106" x="4211"/><use href="#g103" x="5350"/><use href="#g94" x="6032"/><use href="#g113" x="7171"/><use href="#g92" x="8310"/><use href="#g94" x="8765"/><use href="#g113" x="9904"/></g>
<g transform="translate(291.33 918.83) scale(0.013019 -0.013151)" fill="#000"><use href="#g99" x="0"/><use href="#g98" x="1139"/><use href="#g97" x="1821"/></g>
<g transform="translate(435.72 918.83) scale(0.011710 -0.013151)" fill="#000"><use href="#g100" x="0"/><use href="#g98" x="1139"/><use href="#g95" x="1821"/><use href="#g95" x="2960"/></g>
<g transform="translate(25.28 989.62) scale(0.012297 -0.013151)" fill="#000"><use href="#g114" x="0"/><use href="#g94" x="1706"/><use href="#g115" x="2845"/><use href="#g116" x="3300"/><use href="#g106" x="3869"/><use href="#g105" x="5008"/><use href="#g106" x="6032"/></g>
<g transform="translate(291.33 989.62) scale(0.013019 -0.013151)" fill="#000"><use href="#g99" x="0"/><use href="#g98" x="1139"/><use href="#g97" x="1821"/></g>
<g transform="translate(435.72 989.62) scale(0.011710 -0.013151)" fill="#000"><use href="#g100" x="0"/><use href="#g98" x="1139"/><use href="#g95" x="1821"/><use href="#g95" x="2960"/></g>
<g transform="translate(25.77 1060.41) scale(0.011815 -0.013151)" fill="#000"><use href="#g117" x="0"/><use href="#g94" x="1479"/><use href="#g118" x="2618"/><use href="#g94" x="3642"/><use href="#g113" x="4781"/><use href="#g106" x="5920"/><use href="#g105" x="7059"/><use href="#g106" x="8083"/></g>
<g transform="translate(291.69 1060.41) scale(0.012908 -0.013151)" fill="#000"><use href="#g97" x="0"/><use href="#g98" x="1139"/><use href="#g119" x="1821"/></g>
<g transform="translate(435.69 1060.41) scale(0.012578 -0.013151)" fill="#000"><use href="#g95" x="0"/><use href="#g109" x="1139"/><use href="#g98" x="2278"/><use href="#g95" x="2960"/><use href="#g119" x="4099"/></g>
<g transform="translate(26.67 1131.20) scale(0.011949 -0.013151)" fill="#000"><use href="#g120" x="0"/><use href="#g94" x="1024"/><use href="#g121" x="2163"/><use href="#g104" x="3187"/><use href="#g122" x="4780"/><use href="#g93" x="6259"/><use href="#g105" x="7398"/><use href="#g105" x="8422"/><use href="#g106" x="9446"/><use href="#g115" x="10585"/></g>
<g transform="translate(291.70 1131.20) scale(0.012837 -0.013151)" fill="#000"><use href="#g97" x="0"/><use href="#g98" x="1139"/><use href="#g123" x="1821"/></g>
<g transform="translate(435.69 1131.20) scale(0.012555 -0.013151)" fill="#000"><use href="#g95" x="0"/><use href="#g109" x="1139"/><use href="#g98" x="2278"/><use href="#g109" x="2960"/><use href="#g124" x="4099"/></g>
<g transform="translate(25.95 1201.99) scale(0.011855 -0.013151)" fill="#000"><use href="#g125" x="0"/><use href="#g91" x="1366"/><use href="#g92" x="2505"/><use href="#g91" x="2960"/><use href="#g108" x="4668"/><use href="#g126" x="5919"/><use href="#g93" x="6943"/></g>
<g transform="translate(291.74 1201.99) scale(0.012356 -0.013151)" fill="#000"><use href="#g97" x="0"/><use href="#g98" x="1139"/><use href="#g100" x="1821"/><use href="#g96" x="2960"/><use href="#g97" x="3529"/></g>
<g transform="translate(435.68 1201.99) scale(0.012613 -0.013151)" fill="#000"><use href="#g95" x="0"/><use href="#g95" x="1139"/><use href="#g98" x="2278"/><use href="#g95" x="2960"/><use href="#g100" x="4099"/></g>
<g transform="translate(25.34 1272.78) scale(0.011975 -0.013151)" fill="#000"><use href="#g114" x="0"/><use href="#g92" x="1706"/><use href="#g113" x="2161"/><use href="#g92" x="3300"/><use href="#g94" x="3755"/><use href="#g116" x="4894"/><use href="#g93" x="5463"/><use href="#g103" x="6602"/><use href="#g106" x="7284"/><use href="#g125" x="8992"/><use href="#g121" x="10358"/><use href="#g91" x="11382"/><use href="#g113" x="12521"/><use href="#g94" x="13660"/><use href="#g93" x="14799"/><use href="#g126" x="15938"/><use href="#g106" x="16962"/><use href="#g103" x="18101"/></g>
<g transform="translate(291.44 1272.78) scale(0.012890 -0.013151)" fill="#000"><use href="#g110" x="0"/><use href="#g98" x="1139"/><use href="#g119" x="1821"/></g>
<g transform="translate(435.32 1272.78) scale(0.012800 -0.013151)" fill="#000"><use href="#g123" x="0"/><use href="#g98" x="1139"/><use href="#g95" x="1821"/><use href="#g119" x="2960"/></g>
<g transform="translate(25.55 1343.57) scale(0.012526 -0.013151)" fill="#000"><use href="#g114" x="0"/><use href="#g102" x="1706"/><use href="#g127" x="2845"/><use href="#g105" x="3984"/></g>
<g transform="translate(290.98 1343.57) scale(0.013155 -0.013151)" fill="#000"><use href="#g128" x="0"/><use href="#g98" x="1139"/><use href="#g119" x="1821"/></g>
<g transform="translate(435.89 1343.57) scale(0.012578 -0.013151)" fill="#000"><use href="#g95" x="0"/><use href="#g110" x="1139"/><use href="#g98" x="2278"/><use href="#g95" x="2960"/><use href="#g119" x="4099"/></g>
<g transform="translate(25.65 1414.36) scale(0.011889 -0.013151)" fill="#000"><use href="#g129" x="0"/><use href="#g103" x="1251"/><use href="#g106" x="1933"/><use href="#g113" x="3072"/><use href="#g121" x="4211"/><use href="#g91" x="5235"/><use href="#g130" x="6943"/><use href="#g93" x="8309"/><use href="#g115" x="9448"/><use href="#g115" x="9903"/><use href="#g131" x="10358"/><use href="#g102" x="11497"/><use href="#g132" x="12636"/></g>
<g transform="translate(291.21 1414.36) scale(0.012798 -0.013151)" fill="#000"><use href="#g119" x="0"/><use href="#g98" x="1139"/><use href="#g95" x="1821"/><use href="#g109" x="2960"/></g>
<g transform="translate(435.89 1414.36) scale(0.012580 -0.013151)" fill="#000"><use href="#g95" x="0"/><use href="#g119" x="1139"/><use href="#g98" x="2278"/><use href="#g109" x="2960"/><use href="#g128" x="4099"/></g>
<g transform="translate(25.68 1485.15) scale(0.011703 -0.013151)" fill="#000"><use href="#g130" x="0"/><use href="#g106" x="1366"/><use href="#g94" x="2505"/><use href="#g132" x="3644"/><use href="#g115" x="4783"/><use href="#g106" x="5238"/></g>
<g transform="translate(291.90 1485.15) scale(0.012480 -0.013151)" fill="#000"><use href="#g95" x="0"/><use href="#g109" x="1139"/><use href="#g98" x="2278"/><use href="#g95" x="2960"/><use href="#g128" x="4099"/></g>
<g transform="translate(435.84 1485.15) scale(0.012670 -0.013151)" fill="#000"><use href="#g109" x="0"/><use href="#g124" x="1139"/><use href="#g98" x="2278"/><use href="#g109" x="2960"/><use href="#g110" x="4099"/></g>
<g transform="translate(26.13 1555.94) scale(0.011702 -0.013151)" fill="#000"><use href="#g90" x="0"/><use href="#g102" x="1479"/><use href="#g121" x="2618"/><use href="#g104" x="3642"/><use href="#g106" x="4666"/><use href="#g103" x="5805"/><use href="#g125" x="7056"/><use href="#g127" x="8422"/><use href="#g94" x="9561"/><use href="#g113" x="10700"/><use href="#g92" x="11839"/><use href="#g106" x="12294"/><use href="#g115" x="13433"/></g>
<g transform="translate(291.90 1555.94) scale(0.012480 -0.013151)" fill="#000"><use href="#g95" x="0"/><use href="#g109" x="1139"/><use href="#g98" x="2278"/><use href="#g95" x="2960"/><use href="#g128" x="4099"/></g>
<g transform="translate(435.90 1555.94) scale(0.012122 -0.013151)" fill="#000"><use href="#g109" x="0"/><use href="#g128" x="1139"/><use href="#g133" x="2278"/><use href="#g98" x="2847"/><use href="#g99" x="3529"/><use href="#g97" x="4668"/></g>
<circle cx="591.80" cy="767.40" r="11.10" fill="#5d4399"/>
<circle cx="774.60" cy="768.60" r="11.10" fill="#ffe000"/>
<circle cx="956.00" cy="771.00" r="11.10" fill="#f47b20"/>
<circle cx="591.80" cy="840.70" r="11.10" fill="#5d4399"/>
<circle cx="774.60" cy="840.70" r="11.10" fill="#ffe000"/>
<circle cx="956.00" cy="840.70" r="11.10" fill="#f47b20"/>
<circle cx="774.60" cy="910.40" r="11.10" fill="#ffe000"/>
<circle cx="955.90" cy="910.30" r="11.10" fill="#f47b20"/>
<circle cx="1136.30" cy="910.30" r="11.10" fill="#e2118c"/>
<circle cx="774.60" cy="977.80" r="11.10" fill="#ffe000"/>
<circle cx="955.90" cy="978.70" r="11.10" fill="#f47b20"/>
<circle cx="1136.30" cy="979.20" r="11.10" fill="#e2118c"/>
<circle cx="1318.70" cy="980.00" r="11.10" fill="#0f8fd2"/>
<circle cx="955.90" cy="1050.80" r="11.10" fill="#f47b20"/>
<circle cx="1136.30" cy="1051.30" r="11.10" fill="#e2118c"/>
<circle cx="1318.80" cy="1052.20" r="11.10" fill="#0f8fd2"/>
<circle cx="1490.70" cy="1051.90" r="11.10" fill="#09aa4c"/>
<circle cx="1136.30" cy="1123.90" r="11.10" fill="#e2118c"/>
<circle cx="1318.80" cy="1124.00" r="11.10" fill="#0f8fd2"/>
<circle cx="1490.70" cy="1124.00" r="11.10" fill="#09aa4c"/>
<circle cx="1136.30" cy="1191.40" r="11.10" fill="#e2118c"/>
<circle cx="1318.80" cy="1190.90" r="11.10" fill="#0f8fd2"/>
<circle cx="1490.70" cy="1191.60" r="11.10" fill="#09aa4c"/>
<circle cx="1318.80" cy="1266.40" r="11.10" fill="#0f8fd2"/>
<circle cx="1490.70" cy="1265.80" r="11.10" fill="#09aa4c"/>
<circle cx="1318.80" cy="1335.60" r="11.10" fill="#0f8fd2"/>
<circle cx="1490.70" cy="1335.30" r="11.10" fill="#09aa4c"/>
<circle cx="1645.00" cy="1332.60" r="11.10" fill="#c41e25"/>
<circle cx="1490.70" cy="1404.80" r="11.10" fill="#09aa4c"/>
<circle cx="1645.00" cy="1404.80" r="11.10" fill="#c41e25"/>
<circle cx="1490.70" cy="1477.40" r="11.10" fill="#09aa4c"/>
<circle cx="1645.00" cy="1472.70" r="11.10" fill="#c41e25"/>
<circle cx="1645.00" cy="1546.60" r="11.10" fill="#c41e25"/>
</svg>
</body></html>
